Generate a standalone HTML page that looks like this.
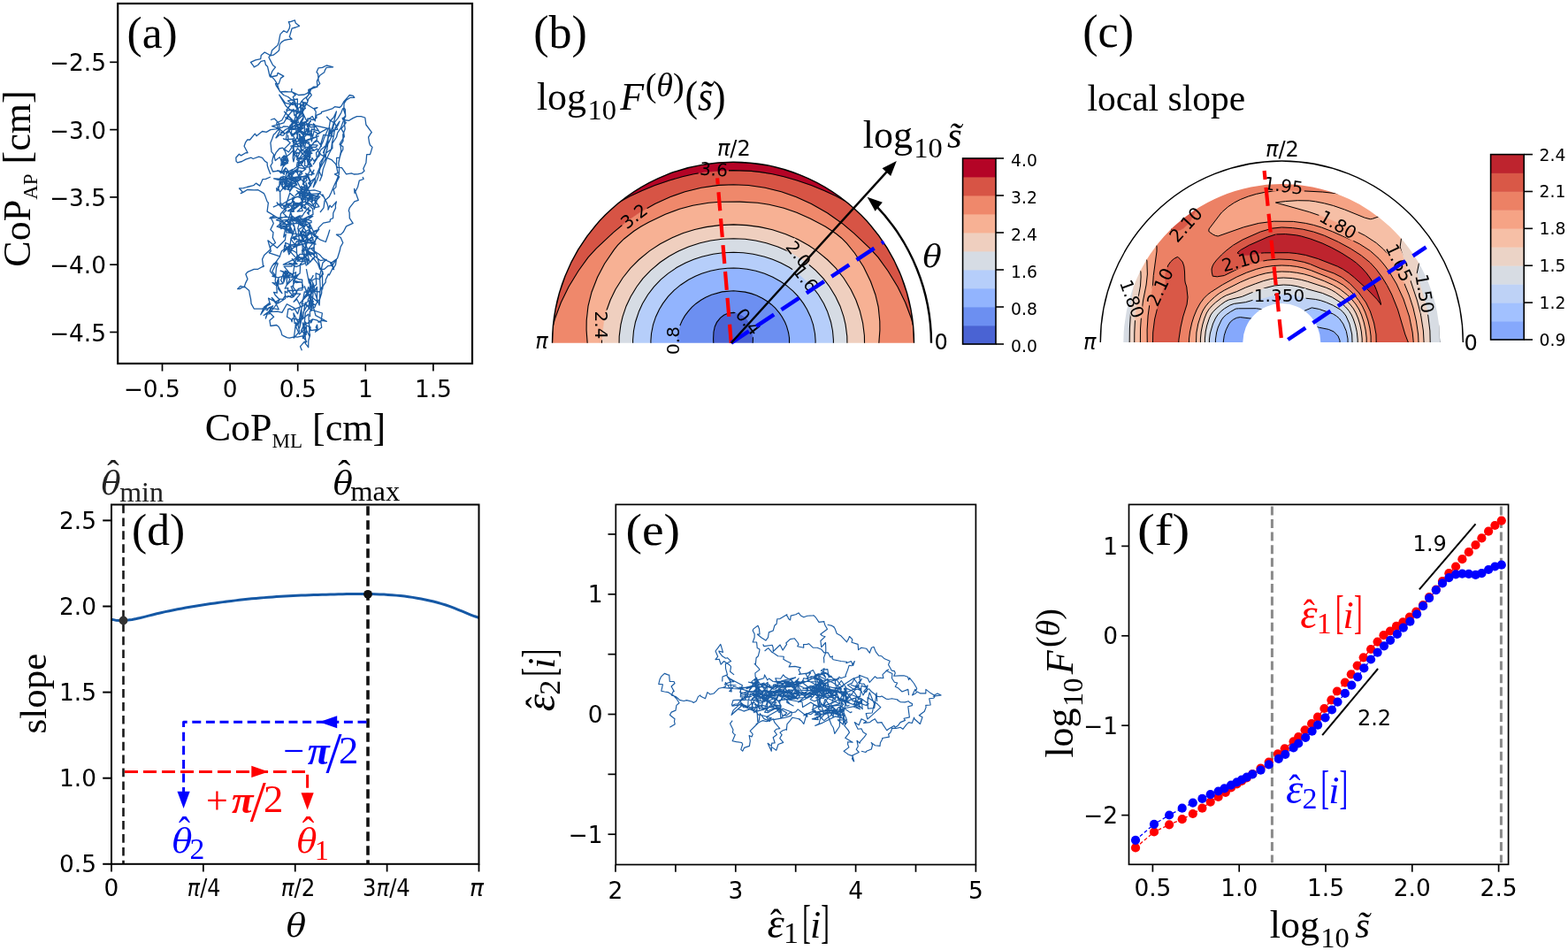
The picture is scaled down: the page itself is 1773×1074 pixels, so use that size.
<!DOCTYPE html>
<html><head><meta charset="utf-8"><title>Figure</title><style>html,body{margin:0;padding:0;background:#fff;}svg{display:block;}</style></head><body>
<svg width="1773" height="1074" viewBox="0 0 1773 1074">
<rect width="1773" height="1074" fill="#fff"/>
<defs><clipPath id="clipB"><path d="M624.50 387.70 A204.5 204.5 0 0 1 1033.50 387.70 Z"/></clipPath>
<mask id="maskB" maskUnits="userSpaceOnUse" x="0" y="0" width="1773" height="1074"><rect width="1773" height="1074" fill="#fff"/><rect x="790.0" y="183.6" width="34" height="16" fill="#000" transform="rotate(4 807 191.6)"/><rect x="700.0" y="236.4" width="34" height="16" fill="#000" transform="rotate(-38 717 244.4)"/><rect x="663.0" y="359.5" width="34" height="16" fill="#000" transform="rotate(90 680 367.5)"/><rect x="744.0" y="377.0" width="34" height="16" fill="#000" transform="rotate(-90 761 385)"/><rect x="829.0" y="355.7" width="34" height="16" fill="#000" transform="rotate(52 846 363.7)"/><rect x="885.9" y="279.4" width="34" height="16" fill="#000" transform="rotate(52 902.9 287.4)"/><rect x="893.7" y="306.8" width="34" height="16" fill="#000" transform="rotate(52 910.7 314.8)"/></mask>
<clipPath id="clipC"><path d="M1270.30 387.00 A179.0 179.0 0 0 1 1628.30 387.00 L1493.30 387.00 A44.0 44.0 0 0 0 1405.30 387.00 Z"/></clipPath>
<mask id="maskC" maskUnits="userSpaceOnUse" x="0" y="0" width="1773" height="1074"><rect width="1773" height="1074" fill="#fff"/><rect x="1427.4" y="202.0" width="48" height="16" fill="#000" transform="rotate(8 1451.4 210)"/><rect x="1317.0" y="246.0" width="48" height="16" fill="#000" transform="rotate(-48 1341 254)"/><rect x="1489.0" y="246.0" width="48" height="16" fill="#000" transform="rotate(30 1513 254)"/><rect x="1379.5" y="287.0" width="48" height="16" fill="#000" transform="rotate(-15 1403.5 295)"/><rect x="1416.5" y="326.0" width="60" height="16" fill="#000" transform="rotate(0 1446.5 334)"/><rect x="1287.7" y="316.5" width="48" height="16" fill="#000" transform="rotate(-65 1311.7 324.5)"/><rect x="1256.0" y="330.0" width="48" height="16" fill="#000" transform="rotate(70 1280 338)"/><rect x="1558.0" y="289.0" width="48" height="16" fill="#000" transform="rotate(65 1582 297)"/><rect x="1587.0" y="324.0" width="48" height="16" fill="#000" transform="rotate(80 1611 332)"/></mask></defs>
<path d="M337.5 125.2 335.9 121.3 332.5 114.1 330.1 113.1 325.7 109.5 320.8 107.5 316.3 103.2 314.7 99.0 313.3 94.5 310.4 90.1 305.9 85.2 308.1 80.1 311.5 75.9 308.6 73.7 305.0 66.9 304.0 64.7 306.5 61.1 307.5 57.0 312.4 52.6 313.9 51.1 315.2 47.9 316.2 42.1 317.0 38.6 320.8 34.8 324.5 36.8 327.1 32.3 327.9 28.7 326.4 24.7 328.3 24.6 333.4 22.8 334.2 26.1 338.5 29.3 334.3 31.0 330.1 32.1 328.0 39.4 327.3 41.6 330.1 44.2 325.7 44.6 321.5 45.5 318.0 47.9 316.2 50.5 315.6 56.7 313.3 59.1 309.2 62.2 305.9 62.8 302.8 61.0 299.3 59.1 295.3 62.4 294.7 66.6 288.9 67.8 283.5 70.3 287.4 75.6 287.2 75.9 291.7 73.5 295.1 69.3 299.3 68.4 300.4 73.2 302.5 75.2 305.0 86.0 305.9 87.0 313.2 85.5 314.1 82.4 320.8 86.1 317.4 88.4 315.2 94.9 311.5 94.5 312.3 96.9 317.0 103.8 322.8 103.5 326.3 103.9 330.1 103.8 334.4 105.9 337.5 107.5 344.1 107.0 346.8 105.7 348.8 104.4 354.3 98.2 358.2 97.9 361.7 94.5 360.1 91.3 359.6 83.5 358.0 81.5 360.0 76.9 364.5 76.4 369.2 74.0 374.1 75.2 376.6 75.9 369.2 76.3 367.3 79.6 366.7 81.8 361.7 85.2 359.6 89.0 358.4 91.7 358.9 98.2 353.7 100.0 352.1 99.6 349.7 106.5 346.8 109.4 342.7 112.6 339.4 116.8 340.0 124.2 339.6 127.0 337.5 131.7 M339.4 139.2 347.6 137.2 347.9 133.9 354.3 135.5 358.0 133.2 357.8 130.4 363.3 128.1 363.5 126.7 371.0 124.3 376.2 122.6 378.5 120.7 384.1 121.5 386.1 119.7 388.7 115.0 393.2 109.9 395.3 107.5 399.4 108.4 400.8 110.3 396.4 110.3 391.5 113.1 389.1 117.0 388.7 124.3 390.7 130.4 387.8 135.5 394.7 136.3 399.0 133.6 403.5 131.7 408.3 131.7 412.8 133.0 413.9 141.0 420.3 149.7 419.5 150.4 416.6 155.2 417.6 161.5 418.5 164.0 421.0 166.4 418.5 174.6 414.7 174.7 413.9 183.9 410.8 190.7 412.0 193.2 408.9 195.9 404.6 196.9 400.1 197.0 397.5 195.8 391.5 196.9 386.5 189.7 381.7 189.4 380.4 187.6 379.7 185.6 375.0 180.7 369.2 178.3 362.5 174.6 361.7 172.7 M339.4 146.6 335.7 145.5 329.6 144.9 325.3 143.2 320.8 142.9 318.8 144.2 312.0 145.8 305.9 146.6 301.2 149.4 296.6 148.5 290.0 153.7 288.3 151.2 282.6 158.0 279.8 157.8 277.7 160.8 276.1 165.3 280.1 172.8 277.9 172.7 272.6 175.9 270.4 174.3 266.8 178.3 267.1 182.4 268.6 183.9 273.6 182.5 277.9 180.1 284.0 178.2 286.2 179.5 292.7 177.2 296.6 178.3 299.6 182.3 302.1 183.9 302.3 187.2 303.5 191.0 305.9 196.9 M388.7 121.5 390.3 123.7 390.7 132.1 387.1 133.6 389.2 136.8 391.3 138.7 385.9 145.6 388.7 150.4 389.3 154.3 384.6 162.0 384.1 163.4 387.8 165.8 387.8 169.0 385.5 173.3 384.1 178.3 380.7 178.3 380.4 187.6 382.0 195.6 378.5 196.9 383.6 199.9 380.4 206.2 379.8 211.6 377.1 214.4 378.5 220.0 M305.9 135.5 310.4 134.2 315.2 139.2 316.4 144.5 311.5 150.4 309.4 152.3 307.9 156.5 305.9 161.5 306.2 163.8 307.0 171.6 309.6 174.6 307.7 182.2 308.1 184.0 305.9 187.6 308.5 194.0 315.2 193.2 317.8 195.9 319.6 189.1 324.5 183.9 326.0 182.0 322.2 170.7 320.8 169.0 324.4 165.4 328.2 161.5 323.4 157.3 324.5 150.4 326.7 147.3 327.7 146.8 333.8 141.0 M354.3 139.2 355.0 141.0 358.6 145.1 361.7 150.4 357.4 152.8 358.5 157.7 354.3 161.5 359.2 159.3 363.6 165.3 362.4 163.6 365.9 152.3 376.2 154.1 372.9 150.4 376.3 146.9 381.7 146.3 378.5 139.2 372.9 135.9 369.2 131.7 M410.1 200.0 411.1 202.5 406.3 204.1 404.6 211.2 401.0 218.3 400.6 213.4 405.2 226.3 400.8 227.9 395.3 234.8 394.3 238.3 395.1 240.3 395.3 246.6 399.1 252.4 391.5 255.9 388.4 262.0 385.4 265.1 380.4 265.2 385.2 268.5 387.8 274.5 385.1 279.1 384.1 283.8 381.6 291.8 380.4 293.1 373.7 297.9 376.6 302.4 372.3 311.0 371.3 309.9 368.3 316.2 368.2 319.1 365.5 322.9 363.7 328.7 363.7 331.4 361.7 337.8 357.3 343.7 356.1 347.1 352.1 349.1 350.4 352.5 350.6 358.3 M305.9 200.0 300.5 202.4 297.1 202.6 293.8 210.1 289.5 207.1 287.2 209.3 285.6 209.9 279.3 211.5 275.2 212.7 270.5 213.0 274.5 217.2 272.3 218.6 275.4 217.1 279.6 214.5 287.2 214.9 291.9 214.7 298.4 218.6 300.0 222.1 302.1 227.9 303.4 229.2 302.1 239.1 305.2 240.9 311.5 244.7 306.0 245.3 309.3 252.5 305.9 259.6 309.0 262.8 308.3 268.6 311.5 274.5 305.8 279.0 305.9 280.1 305.5 282.3 298.7 288.5 298.3 289.4 296.6 293.1 297.7 301.7 298.4 300.6 291.7 304.3 287.2 304.3 280.2 307.3 277.9 309.9 280.0 315.4 277.6 320.1 276.1 324.8 272.1 323.3 268.6 326.6 270.9 326.6 276.2 323.8 281.7 328.5 282.3 332.5 283.5 337.8 284.1 343.4 287.2 349.0 296.0 349.1 298.4 348.7 302.1 350.8 304.0 347.8 305.9 347.1 305.1 353.8 309.6 358.3 304.9 362.2 305.9 368.5 312.7 367.5 315.2 369.5 317.7 374.4 318.9 378.8 319.8 379.3 324.5 381.6 327.2 382.2 333.8 380.6 336.0 381.1 343.1 379.7 342.5 381.0 346.8 386.2 345.0 387.8 348.7 392.7 348.8 385.8 348.9 384.8 350.6 378.8 349.4 374.3 351.5 373.2 350.3 369.9 348.7 363.9 M328.2 255.9 331.1 262.3 330.4 266.3 328.8 270.1 331.9 274.5 335.8 278.4 335.3 280.0 335.7 287.5 338.7 290.8 343.1 295.0 339.4 298.8 339.4 304.3 339.1 309.1 335.7 311.7 331.7 317.9 331.9 319.2 331.6 324.9 335.7 330.4 332.1 334.5 330.1 334.1 324.6 336.0 322.6 334.1 319.7 338.3 315.2 337.8 311.1 333.5 309.6 330.4 313.3 331.2 312.6 322.1 315.2 319.2 315.0 314.5 309.6 311.7 305.4 306.6 305.9 304.3 307.8 300.5 311.5 296.8 314.4 292.9 317.0 289.4 M346.8 293.1 351.3 295.9 353.9 291.4 359.3 297.8 361.7 304.3 366.5 304.4 371.0 300.6 375.8 300.1 380.4 293.1 379.5 299.1 376.6 304.3 377.5 304.5 375.3 297.3 370.7 295.2 364.6 291.6 362.3 288.8 360.5 287.3 355.5 284.0 354.3 280.1 352.4 281.8 358.0 287.5 358.6 290.6 361.0 298.3 361.7 302.4 365.0 307.8 363.6 311.7 361.3 315.6 357.0 314.7 352.4 317.3 354.4 321.2 356.4 328.4 354.3 330.4 350.3 333.1 350.6 339.7 347.5 341.1 344.5 345.2 339.4 347.1 329.9 350.7 328.2 349.0 325.9 349.3 324.5 358.3 329.1 360.9 330.1 363.9 330.7 359.8 339.4 362.0 342.8 358.9 343.1 352.7 346.9 346.1 345.0 341.5 M361.7 218.6 365.3 222.1 364.8 219.9 369.9 230.1 371.1 234.1 371.0 237.2 373.0 232.2 374.9 234.4 380.4 227.9 379.3 232.4 379.5 235.1 376.8 240.7 376.6 246.6 373.5 248.0 373.1 250.6 365.5 252.1 359.9 257.9 360.7 259.4 354.3 261.5 355.9 266.8 361.7 270.8 368.3 273.5 371.1 265.5 372.9 259.6 M387.8 122.3 385.7 127.6 382.1 133.6 378.6 137.8 377.0 142.2 376.1 148.1 375.0 154.3 372.1 160.4 369.0 165.7 365.5 172.6 367.3 168.0 370.2 161.4 371.2 153.4 373.2 149.2 375.8 144.0 377.6 137.7 379.3 130.8 380.4 126.0 377.3 132.8 373.4 136.5 372.2 144.0 369.9 148.2 366.6 155.9 365.3 159.9 361.5 167.6 357.5 172.9 358.4 179.3 354.3 185.7 358.2 179.6 360.4 174.4 362.9 169.3 368.0 165.1 370.6 157.5 372.7 151.8 377.7 147.4 382.1 141.8 384.0 137.2 379.0 144.7 377.9 150.2 377.2 154.3 375.5 161.2 374.6 168.9 372.1 173.8 369.3 179.7 367.5 185.3 365.2 191.6 364.1 198.5 361.7 204.3 363.6 199.5 360.7 193.0 362.8 185.9 365.9 178.8 368.4 173.7 369.9 168.5 370.9 161.8 371.0 154.9 373.0 151.6 372.9 144.7 371.6 151.3 370.1 159.7 368.5 164.2 367.0 169.8 365.9 177.9 361.7 184.0 361.5 189.3 360.0 192.8 356.4 201.8 356.3 204.8 354.3 211.7 357.2 206.4 359.9 199.4 360.3 196.3 362.3 189.6 365.9 183.4 368.0 179.8 368.6 173.1 375.9 167.7 375.8 162.2 380.5 155.0 381.7 150.1 385.4 144.6 387.7 138.2 389.7 133.5 389.4 139.8 390.2 145.8 387.8 152.2 388.0 159.3 385.0 164.2 385.7 170.2 384.3 177.0 382.8 184.6 383.5 190.0 383.3 197.1 380.4 204.3 377.5 210.5 374.7 217.2 372.1 222.6 367.0 227.1 366.0 234.8 362.0 240.0 M330.0 100.0 329.5 103.3 334.2 107.4 331.3 109.5 333.8 115.9 334.9 120.8 337.4 123.6 336.0 128.0 334.5 130.1 333.1 135.5 329.2 140.7 328.1 141.8 326.5 145.0 326.0 150.0 328.4 144.7 328.1 143.3 332.3 138.4 337.4 138.7 336.2 132.9 341.1 127.9 343.8 123.8 345.0 120.0 347.1 117.0 348.9 111.6 352.3 107.6 349.4 102.6 352.0 100.0 348.8 101.3 349.0 107.2 346.4 110.7 348.1 114.5 344.2 120.4 345.4 122.5 340.5 125.7 342.8 131.4 343.0 134.3 340.0 140.0 M325.9 145.6 327.7 146.5 336.4 146.2 326.4 146.2 330.1 154.0 343.1 144.8 338.0 143.8 343.6 142.7 338.2 141.4 328.9 137.5 331.5 137.3 321.5 126.2 330.8 135.8 329.8 134.8 335.3 141.0 344.0 152.5 344.7 138.5 348.5 136.7 334.8 141.9 346.4 138.7 349.1 145.6 350.0 149.6 346.6 147.9 344.9 150.7 344.6 144.2 338.6 145.9 338.8 143.6 341.0 140.8 352.1 141.0 370.6 145.1 359.6 151.1 355.0 148.3 352.4 159.8 351.1 153.1 338.4 147.6 336.1 143.9 335.7 140.3 334.8 124.3 345.6 115.9 342.8 115.9 342.7 121.8 342.2 130.4 330.9 140.5 329.4 149.8 332.3 154.9 337.4 166.0 328.8 165.1 334.6 163.6 348.6 157.5 360.2 153.8 344.4 160.1 330.4 159.3 339.5 166.2 343.7 163.1 342.9 152.9 337.2 147.0 330.3 152.6 326.4 147.1 319.9 153.2 317.7 152.9 317.9 149.4 321.6 150.6 314.8 144.8 307.6 142.7 320.9 138.8 326.2 129.9 325.2 134.3 323.2 134.0 332.0 123.5 332.9 130.6 340.0 125.9 329.9 125.6 323.6 120.3 315.7 107.2 322.6 116.3 331.6 118.6 325.4 114.0 327.6 113.3 336.4 112.0 336.3 123.5 331.2 115.3 323.8 124.6 329.1 117.2 332.7 116.6 342.2 118.3 340.2 118.4 343.2 132.4 337.4 141.6 330.7 143.1 322.8 146.4 312.0 155.9 316.2 148.6 312.6 139.0 318.7 136.0 325.0 124.8 329.8 124.1 342.1 127.0 346.6 136.5 353.1 131.4 356.4 136.8 357.2 126.1 355.3 123.7 358.9 121.6 354.8 122.7 354.1 122.5 340.9 114.3 343.7 118.0 340.1 129.8 332.6 138.1 322.8 132.8 325.5 134.7 M332.2 163.8 331.2 159.7 331.6 156.6 332.2 168.9 333.6 172.5 331.0 167.6 333.6 162.7 330.5 164.8 329.1 167.8 326.4 172.0 319.5 167.2 315.9 168.0 312.0 172.7 310.1 177.0 311.3 181.5 316.2 177.8 317.7 180.9 319.1 186.5 324.1 184.1 318.7 183.0 324.0 180.6 323.1 178.1 325.5 184.3 319.7 187.0 318.7 178.7 322.7 176.6 321.4 175.8 319.0 178.3 317.7 187.3 320.5 184.3 320.7 178.3 323.3 180.9 317.8 180.8 321.0 184.6 320.5 180.8 321.2 183.8 323.4 184.3 323.3 179.4 319.1 180.9 318.5 181.5 327.7 174.0 332.2 169.3 331.3 166.1 331.7 168.9 333.1 177.9 331.9 182.9 331.1 178.6 331.7 171.5 336.2 179.0 335.3 172.4 337.7 173.5 340.2 170.0 341.3 173.9 348.3 170.6 350.8 169.0 350.9 178.0 345.8 171.2 345.2 170.2 351.4 166.2 357.2 166.5 359.1 164.2 352.8 163.6 354.9 161.4 350.8 166.6 340.3 165.8 341.3 160.9 339.4 165.1 338.9 158.0 338.6 151.3 341.0 156.8 342.6 162.0 342.5 154.1 339.6 155.1 343.0 156.0 347.3 151.8 349.7 140.0 350.6 136.7 351.6 136.8 348.4 140.0 351.1 143.9 356.8 143.0 355.7 140.7 355.2 146.6 358.9 147.7 352.3 146.0 351.7 148.2 353.7 155.6 350.8 150.8 344.4 151.9 349.4 152.8 352.8 148.1 350.0 147.8 346.3 146.5 346.6 147.3 348.1 149.7 348.6 145.5 346.3 145.3 349.5 145.2 347.2 142.9 349.4 142.4 345.4 137.8 341.1 143.8 336.9 149.4 342.5 149.0 344.9 158.6 340.5 158.6 349.2 160.6 350.3 167.3 347.7 167.3 347.0 180.6 348.5 173.4 351.5 172.9 351.1 173.0 348.1 177.6 342.9 179.3 344.7 182.3 344.6 187.4 347.3 187.9 350.2 183.4 352.8 187.9 348.0 186.4 349.6 177.1 346.7 177.8 348.5 186.0 350.3 178.2 344.4 170.8 343.0 170.7 339.9 167.0 340.6 171.3 344.4 167.6 346.1 158.9 343.5 160.6 342.0 156.8 339.7 156.0 340.3 160.8 337.1 158.1 338.6 157.3 336.4 156.7 337.0 150.1 337.8 143.3 332.8 142.5 333.6 141.0 333.9 143.3 336.7 155.5 336.0 154.6 333.9 160.0 330.8 157.2 322.3 157.7 320.4 156.8 326.0 158.6 325.6 152.6 M337.3 187.4 331.7 191.5 329.7 192.2 326.2 201.5 322.9 201.6 322.4 210.3 324.6 204.9 323.7 200.5 320.7 199.5 315.8 202.1 309.6 201.8 314.5 203.3 323.5 203.6 328.8 200.5 337.1 189.5 338.3 185.9 342.0 181.8 341.4 184.1 337.5 184.6 340.1 183.4 337.6 183.6 345.4 180.4 348.9 172.0 344.2 173.2 347.4 172.8 347.9 167.4 343.5 171.7 343.8 172.1 337.3 180.1 343.4 179.7 345.3 175.2 348.1 176.4 346.1 168.3 342.2 162.7 345.9 161.1 352.2 164.4 348.3 171.3 352.9 173.2 344.2 176.9 347.3 179.9 343.3 174.7 336.5 167.7 333.1 173.3 339.1 172.7 336.7 177.2 338.4 181.6 338.0 179.9 343.4 176.5 346.3 173.5 346.6 172.8 345.9 171.2 351.6 171.7 349.2 171.2 355.4 170.2 350.5 165.5 350.6 164.4 348.1 166.9 355.5 170.0 358.6 168.1 360.7 172.5 361.2 176.0 355.0 182.0 353.0 178.5 352.4 180.2 350.6 182.6 352.3 181.1 348.6 180.1 346.5 178.5 351.3 188.3 344.2 189.7 340.4 185.5 340.8 186.9 335.4 188.3 336.3 183.4 338.7 183.4 335.4 180.1 336.4 179.0 344.6 179.6 341.8 184.6 339.1 184.1 337.4 185.3 336.7 194.7 336.1 195.3 339.5 203.5 337.3 199.4 341.8 196.3 338.9 193.1 340.9 193.3 328.3 195.3 331.4 195.7 327.9 197.5 318.1 204.5 317.2 200.7 320.1 208.5 317.9 208.4 315.9 205.4 320.8 213.2 321.7 210.5 322.3 209.6 321.3 206.4 316.5 202.0 315.8 210.7 313.0 216.0 312.7 212.7 316.0 216.2 314.2 211.2 315.9 210.8 316.2 209.8 316.5 205.2 319.8 212.4 325.8 210.7 328.4 210.2 326.7 207.2 325.8 213.5 329.6 209.3 329.4 209.3 326.6 209.0 322.7 210.1 327.7 207.9 329.9 208.6 332.0 211.7 327.6 210.7 330.2 201.6 334.0 200.9 339.3 201.6 342.7 205.0 343.1 208.4 343.0 200.3 341.4 199.9 346.0 198.5 346.4 201.6 350.3 193.3 349.8 189.5 352.8 195.9 355.0 192.2 352.1 198.2 352.9 194.9 355.1 196.6 349.9 197.7 346.1 198.9 345.4 199.5 335.1 200.2 334.0 207.4 335.2 208.2 330.3 201.9 329.7 205.7 326.8 211.7 331.4 207.8 338.3 203.5 340.3 199.3 340.6 202.5 336.8 205.0 333.1 202.4 336.8 203.0 339.0 196.0 345.9 191.0 337.4 189.4 335.6 195.2 336.0 191.4 330.8 194.1 330.7 191.5 324.1 195.1 323.8 197.1 325.1 193.5 319.0 194.8 323.0 189.7 321.4 195.0 321.4 197.2 317.2 193.5 316.9 193.5 313.1 192.9 M339.2 215.7 346.9 218.5 346.1 206.6 350.5 220.0 361.8 222.4 357.5 227.0 346.6 224.0 349.2 226.1 350.5 217.7 340.5 219.2 345.1 217.2 339.1 219.2 345.4 219.3 340.5 229.6 345.6 227.7 345.0 222.7 351.7 219.0 345.4 218.6 356.1 201.4 348.6 207.0 350.0 208.6 349.9 207.3 351.6 209.9 349.7 203.8 345.7 196.1 347.7 197.1 351.4 205.4 350.3 209.5 348.3 213.5 341.9 214.2 340.1 216.9 340.9 211.1 348.5 212.1 344.1 216.2 340.7 210.5 346.6 214.0 341.6 214.1 347.5 215.5 349.7 215.6 352.9 224.5 355.2 223.2 352.9 225.3 352.0 228.6 354.4 231.4 355.3 236.5 360.4 218.8 351.0 219.3 353.5 223.3 347.3 220.0 341.6 225.9 341.4 215.2 340.7 212.4 345.5 210.0 342.2 208.1 347.3 203.6 344.6 200.5 343.4 207.2 346.0 216.3 348.2 215.7 355.5 214.8 362.7 217.0 356.0 224.3 356.1 228.0 358.2 227.3 352.8 232.9 349.9 230.2 341.6 232.2 344.1 217.2 332.4 210.6 330.2 210.2 327.6 216.6 332.6 209.7 335.1 209.5 333.5 203.9 335.2 201.2 324.3 204.5 324.2 205.0 318.1 199.9 315.4 203.7 319.8 202.3 336.2 200.0 327.9 206.5 323.1 202.6 327.3 195.0 326.2 196.9 329.7 202.8 327.5 208.5 318.5 203.3 317.0 202.2 318.4 208.6 322.2 214.5 325.3 204.3 335.9 209.0 333.8 205.0 335.9 204.9 340.6 214.1 342.9 223.0 351.6 223.8 353.5 223.1 350.0 220.0 341.9 217.8 338.5 220.3 342.4 218.6 338.1 217.7 335.5 215.6 343.1 221.2 343.9 225.6 342.5 219.7 338.2 216.6 334.0 221.0 336.5 218.8 338.0 218.2 341.5 227.8 334.2 232.3 332.6 227.7 329.4 237.7 327.1 245.2 328.8 240.1 331.1 247.7 338.9 243.9 341.4 244.1 341.2 245.1 344.1 240.5 349.0 234.6 349.2 242.5 347.4 240.5 351.2 238.2 343.7 235.2 340.5 229.4 331.8 235.7 332.9 230.4 331.5 227.1 328.9 230.6 333.2 223.1 327.7 218.2 321.6 237.1 322.0 237.0 327.6 231.5 320.5 238.3 317.4 241.7 316.4 254.2 323.0 253.5 318.0 248.5 309.8 243.8 304.9 246.9 308.9 246.4 325.5 245.4 330.7 246.9 328.3 239.9 337.7 232.7 339.2 229.3 342.2 238.4 336.2 239.0 342.6 233.2 335.2 230.3 333.6 232.1 325.5 232.2 317.0 232.2 316.7 216.9 320.4 212.3 327.9 215.1 321.2 206.4 319.9 199.2 333.0 204.9 331.5 206.0 328.8 208.0 320.7 205.4 323.5 197.7 324.0 194.1 330.9 199.4 323.2 190.0 M334.4 234.9 329.9 235.6 325.5 238.6 332.4 239.1 330.5 239.4 329.4 236.9 327.5 237.2 332.4 238.6 328.3 232.2 323.4 230.4 328.9 229.8 320.5 234.0 327.1 234.4 320.4 232.8 322.0 233.7 318.5 231.3 327.8 225.6 336.4 222.5 343.0 224.8 345.4 225.7 353.5 227.8 352.3 223.4 353.6 225.1 350.3 222.0 349.9 223.5 347.5 229.4 350.0 224.6 344.4 232.1 346.0 234.5 342.3 234.2 340.2 230.1 331.6 229.0 330.5 225.9 330.3 223.8 343.0 220.6 356.4 221.5 357.1 221.7 357.3 224.8 355.9 225.0 356.1 226.6 360.9 233.7 355.6 234.9 354.0 232.9 349.0 229.7 344.6 228.0 353.6 236.0 354.0 242.4 343.4 247.3 338.5 247.1 334.0 247.1 339.1 245.1 342.5 249.5 349.2 251.9 352.1 251.7 352.0 249.7 344.7 247.7 341.9 253.2 343.3 256.3 339.3 254.3 339.5 253.4 343.4 248.5 347.0 250.5 345.6 247.5 347.1 247.8 340.2 250.5 333.3 248.6 341.2 248.3 333.8 252.5 324.0 253.4 322.4 258.5 328.0 260.2 327.4 260.5 321.4 255.7 324.3 257.4 316.4 255.4 317.8 258.8 319.0 257.5 323.5 258.9 322.1 259.6 328.1 261.5 328.3 256.6 326.3 259.3 326.9 261.9 329.2 263.3 321.8 258.8 313.1 256.2 318.8 251.5 318.9 249.1 325.5 248.4 337.1 250.7 345.0 250.0 353.8 244.5 346.7 246.0 346.3 249.4 346.5 251.1 339.0 253.6 342.7 256.2 342.5 256.3 340.1 252.8 342.8 256.9 341.4 252.5 328.7 247.1 329.9 249.2 335.4 246.9 337.7 251.9 342.4 255.3 345.9 252.6 348.6 257.9 350.6 252.4 345.4 254.3 351.7 258.3 345.7 261.6 343.8 262.8 342.8 267.0 337.0 266.4 340.5 263.5 340.7 267.4 342.0 270.6 340.1 266.3 331.8 267.8 331.3 269.7 331.2 268.2 335.4 269.1 333.0 271.2 332.2 269.7 351.1 274.7 351.7 272.5 344.3 267.7 345.5 266.0 341.8 265.0 340.2 265.7 334.6 264.4 323.5 262.6 324.3 256.2 320.6 255.6 315.6 256.5 322.7 250.4 328.9 250.3 324.7 255.0 324.1 255.8 322.2 252.0 312.4 248.7 324.0 244.7 320.1 240.9 323.8 237.9 321.5 235.8 319.1 235.6 313.1 228.9 314.3 231.3 318.1 230.0 308.8 234.1 M344.3 274.5 350.7 260.5 345.8 267.7 345.7 261.6 345.7 260.6 341.3 254.8 343.4 252.4 327.3 252.9 325.1 250.1 326.5 246.6 328.2 251.4 323.9 249.4 327.2 253.7 328.5 255.1 329.2 247.8 331.7 252.0 332.5 254.7 335.4 266.3 328.9 270.1 327.2 284.6 330.5 281.1 337.0 276.4 337.5 271.4 346.2 274.4 347.0 273.0 338.6 273.2 337.1 259.8 345.5 254.7 339.5 263.6 341.9 260.3 347.7 266.5 344.0 268.9 342.8 272.4 354.1 268.6 351.9 268.3 346.6 274.0 357.1 276.0 348.2 271.0 354.3 271.7 350.6 261.0 355.7 267.4 357.7 262.8 360.0 260.3 351.7 263.7 359.6 267.8 346.9 283.6 346.3 289.3 338.1 293.7 335.0 285.5 324.5 279.6 327.9 276.9 342.0 275.9 342.3 284.9 341.5 285.0 343.7 289.4 347.7 294.6 338.5 291.1 344.9 291.5 343.5 283.3 354.7 279.8 357.5 268.6 350.8 254.1 348.5 265.6 351.2 263.7 341.1 262.1 343.0 271.5 341.4 265.4 348.0 268.7 346.3 278.0 352.2 290.2 346.9 283.9 355.5 286.5 344.3 289.2 349.9 295.3 346.2 281.7 341.4 283.3 345.2 279.1 347.3 287.1 339.0 287.4 331.1 298.9 334.3 297.3 330.3 292.8 336.1 298.5 320.3 299.2 335.0 291.9 321.8 277.3 321.2 281.8 328.6 278.1 330.1 282.4 326.8 287.7 324.5 279.7 318.5 283.8 316.4 289.9 304.3 285.8 306.4 283.9 302.9 271.8 313.4 280.3 322.4 271.3 323.2 264.6 320.6 268.1 322.7 258.3 330.4 253.0 333.2 257.2 330.9 266.2 326.7 254.6 329.6 243.4 339.5 251.4 336.8 246.4 337.9 254.0 336.7 258.4 340.9 264.0 M346.4 304.1 349.5 320.0 354.1 311.6 350.9 317.8 350.6 326.1 340.8 341.1 350.3 329.4 348.7 324.3 346.8 331.1 344.4 323.8 348.2 333.6 346.2 335.4 339.4 342.5 351.5 346.5 351.4 330.7 350.0 315.1 354.2 328.8 361.4 330.0 363.8 324.7 364.8 326.5 364.4 306.2 365.4 310.0 361.2 313.4 365.0 297.0 369.1 293.4 362.3 294.6 357.6 290.9 351.7 285.7 345.0 281.2 339.2 271.1 344.6 271.9 346.6 285.6 349.8 286.0 343.9 292.3 346.3 300.3 345.6 297.4 334.8 301.6 327.1 297.6 330.1 297.9 329.9 301.1 321.1 301.1 328.1 309.5 320.8 316.1 323.6 307.9 317.1 306.2 324.9 309.3 320.5 309.5 326.4 308.2 324.4 311.1 314.2 313.8 307.9 312.4 310.8 310.6 307.8 307.0 313.0 296.1 309.2 298.3 314.3 297.8 312.4 302.9 311.2 318.0 318.9 331.6 314.7 326.8 314.1 316.2 312.3 322.8 308.0 319.6 316.7 321.2 320.1 320.5 317.5 316.9 319.7 311.8 320.6 307.8 320.8 319.2 324.6 308.6 324.2 322.2 334.1 312.5 336.6 312.0 323.8 313.8 334.6 307.8 333.3 314.7 331.3 310.7 333.0 299.3 335.8 289.1 336.3 295.5 345.0 289.6 346.0 291.6 336.6 291.0 338.0 295.2 348.3 296.1 347.8 295.5 347.5 299.2 355.4 291.2 355.1 273.2 346.1 275.0 335.1 278.0 341.9 271.9 338.2 272.5 335.6 272.6 332.1 279.6 333.9 279.4 322.6 274.4 323.4 280.1 320.6 284.9 325.5 280.5 329.7 279.4 M324.9 334.4 329.8 336.3 332.3 335.3 337.4 326.4 343.1 325.1 341.4 319.3 331.6 317.2 335.3 319.6 339.6 318.9 340.1 318.6 333.5 318.7 330.6 323.8 329.1 323.9 331.8 329.6 330.8 328.9 331.4 334.9 326.0 328.5 341.9 327.8 341.7 316.1 338.5 316.0 334.5 314.1 333.0 316.6 337.7 310.1 330.0 314.0 330.6 309.8 322.5 306.1 322.5 310.6 327.9 315.5 322.1 326.2 325.8 325.7 324.7 331.1 322.2 329.2 322.7 337.5 314.7 342.8 303.5 337.1 305.0 342.3 298.4 347.3 305.8 343.9 304.7 342.2 294.8 355.7 298.6 347.1 302.7 349.1 302.5 349.2 308.6 345.7 303.9 355.2 306.9 352.0 316.5 338.3 310.7 341.8 312.4 343.1 309.8 339.0 307.3 336.5 311.6 342.2 315.2 349.8 306.1 348.2 300.9 357.7 300.4 360.1 302.4 354.5 298.1 356.5 303.2 352.7 313.8 352.2 318.9 353.4 324.4 343.8 332.5 348.1 336.6 354.8 339.5 345.5 335.7 338.3 332.1 341.2 339.7 332.2 332.2 331.9 334.4 333.0 330.3 334.8 M350.6 346.7 352.1 323.2 351.8 345.9 345.4 353.4 343.5 373.0 342.3 364.8 350.2 380.8 348.9 355.1 342.1 360.8 345.1 342.7 351.0 349.8 348.8 348.3 349.8 341.1 352.9 339.3 352.1 351.5 354.0 332.7 353.7 319.7 354.2 326.2 348.1 339.3 356.0 344.6 350.8 342.8 352.1 349.3 354.3 340.3 351.9 350.1 364.4 354.0 363.2 362.1 369.3 363.3 356.9 356.6 353.4 343.2 347.4 331.2 358.4 340.8 358.5 324.4 355.9 329.4 354.6 327.3 361.1 345.1 362.2 324.8 361.4 310.7 357.1 308.9 357.7 321.8 346.7 330.7 344.3 329.8 340.8 349.4 341.5 359.1 338.7 370.9 340.4 359.0 340.4 350.1 337.6 366.4 339.8 359.6 333.8 370.9 334.7 364.7 332.3 382.0 338.6 374.9 337.0 367.5 337.2 364.9 331.9 354.0 333.1 365.5 336.6 365.3 334.0 367.9 338.5 377.8 344.7 371.5 342.3 383.0 M344.9 363.8 346.9 366.0 344.5 365.8 344.5 365.8 352.1 364.6 350.2 362.7 353.2 361.1 351.8 364.8 353.6 360.9 358.8 362.2 360.4 363.6 364.4 362.3 359.8 364.0 362.8 364.0 363.7 370.2 356.5 375.2 359.1 372.5 357.2 370.0 358.6 367.2 359.2 372.5 351.4 373.6 350.4 371.0 351.3 370.1 345.2 367.3 345.2 364.1 340.5 373.9 346.2 378.4 346.4 369.1 345.3 370.9 343.7 368.0 345.1 376.2 346.2 375.9 343.7 381.2 345.3 380.1 344.5 377.0 345.8 384.8 346.5 386.0 344.3 386.3 340.0 391.1 339.5 391.8 341.4 396.2" fill="none" stroke="#1a5ca4" stroke-width="1.3" stroke-linejoin="round"/>
<rect x="133.2" y="4" width="400.8" height="407" fill="none" stroke="#000" stroke-width="2.2"/>
<line x1="183.5" y1="411" x2="183.5" y2="419.6" stroke="#000" stroke-width="1.7"/>
<line x1="260.1" y1="411" x2="260.1" y2="419.6" stroke="#000" stroke-width="1.7"/>
<text x="260.1" y="449.3" font-size="26.4" font-family="'DejaVu Sans', sans-serif" text-anchor="middle">0</text>
<line x1="336.7" y1="411" x2="336.7" y2="419.6" stroke="#000" stroke-width="1.7"/>
<text x="336.7" y="449.3" font-size="26.4" font-family="'DejaVu Sans', sans-serif" text-anchor="middle">0.5</text>
<line x1="413.3" y1="411" x2="413.3" y2="419.6" stroke="#000" stroke-width="1.7"/>
<text x="413.3" y="449.3" font-size="26.4" font-family="'DejaVu Sans', sans-serif" text-anchor="middle">1</text>
<line x1="489.9" y1="411" x2="489.9" y2="419.6" stroke="#000" stroke-width="1.7"/>
<text x="489.9" y="449.3" font-size="26.4" font-family="'DejaVu Sans', sans-serif" text-anchor="middle">1.5</text>
<text x="171.7" y="449.3" font-size="26.4" font-family="'DejaVu Sans', sans-serif" text-anchor="middle">−0.5</text>
<line x1="124.2" y1="70.3" x2="133.2" y2="70.3" stroke="#000" stroke-width="1.7"/>
<text x="120" y="80.3" font-size="26.4" font-family="'DejaVu Sans', sans-serif" text-anchor="end">−2.5</text>
<line x1="124.2" y1="146.6" x2="133.2" y2="146.6" stroke="#000" stroke-width="1.7"/>
<text x="120" y="156.6" font-size="26.4" font-family="'DejaVu Sans', sans-serif" text-anchor="end">−3.0</text>
<line x1="124.2" y1="222.9" x2="133.2" y2="222.9" stroke="#000" stroke-width="1.7"/>
<text x="120" y="232.9" font-size="26.4" font-family="'DejaVu Sans', sans-serif" text-anchor="end">−3.5</text>
<line x1="124.2" y1="299.2" x2="133.2" y2="299.2" stroke="#000" stroke-width="1.7"/>
<text x="120" y="309.2" font-size="26.4" font-family="'DejaVu Sans', sans-serif" text-anchor="end">−4.0</text>
<line x1="124.2" y1="375.5" x2="133.2" y2="375.5" stroke="#000" stroke-width="1.7"/>
<text x="120" y="385.5" font-size="26.4" font-family="'DejaVu Sans', sans-serif" text-anchor="end">−4.5</text>
<text x="143.5" y="54.3" font-size="51.5" font-family="'Liberation Serif', 'Times New Roman', serif">(a)</text>
<text x="231.7" y="498.2" font-size="44" font-family="'Liberation Serif', 'Times New Roman', serif">CoP<tspan font-size="23" dy="8">ML</tspan><tspan dy="-8"> [cm]</tspan></text>
<text x="0" y="0" font-size="44" font-family="'Liberation Serif', 'Times New Roman', serif" transform="translate(34 301.7) rotate(-90)">CoP<tspan font-size="23" dy="7.5">AP</tspan><tspan dy="-7.5"> [cm]</tspan></text>
<g clip-path="url(#clipB)">
<path d="M823.5 354.1 L830.5 353.5 L834.5 354.1 L837.5 355.2 L842.5 358.4 L846.5 362.9 L849.3 368.2 L850.9 374.2 L851.4 382.2 L851.0 392.2 L807.0 392.2 L806.6 388.2 L806.8 376.2 L807.7 371.2 L809.5 366.3 L811.5 362.9 L814.6 359.2 L818.5 356.2 L823.2 354.2Z" fill="#4a63d3" stroke="#4a63d3" stroke-width="0.6" fill-rule="evenodd"/>
<path d="M821.5 329.2 L828.5 328.8 L835.5 329.1 L842.5 330.1 L849.5 331.9 L855.9 334.2 L862.1 337.2 L868.4 341.2 L873.4 345.2 L877.5 349.2 L881.6 354.2 L885.5 360.2 L888.5 366.3 L890.6 372.2 L892.4 381.2 L892.6 392.2 L851.0 392.2 L851.4 383.2 L851.0 375.2 L849.7 369.2 L847.5 364.4 L843.5 359.3 L839.5 356.2 L834.8 354.2 L829.5 353.4 L823.5 354.1 L818.5 356.2 L814.5 359.3 L810.5 364.4 L808.3 369.2 L807.0 375.2 L806.6 383.2 L807.0 392.2 L765.4 392.2 L765.5 382.0 L766.5 375.9 L768.5 368.9 L770.5 364.1 L773.5 358.5 L780.5 349.2 L789.5 341.3 L799.5 335.4 L810.5 331.3 L821.5 329.2Z" fill="#6c8ff1" stroke="#6c8ff1" stroke-width="0.6" fill-rule="evenodd"/>
<path d="M822.5 303.2 L835.5 303.2 L844.5 304.2 L854.5 306.2 L861.5 308.2 L869.5 311.2 L879.5 316.2 L888.5 322.2 L893.5 326.2 L901.5 334.1 L906.5 340.2 L911.5 348.0 L916.5 358.2 L919.5 367.2 L921.5 377.2 L922.1 385.2 L922.0 392.2 L892.6 392.2 L892.5 382.0 L891.5 375.9 L889.5 368.9 L887.5 364.1 L884.3 358.2 L881.5 354.1 L876.5 348.2 L872.2 344.2 L866.9 340.2 L862.1 337.2 L855.5 334.0 L849.5 331.9 L842.5 330.1 L829.5 328.8 L816.5 329.9 L804.5 333.2 L797.8 336.2 L792.6 339.2 L787.0 343.2 L782.5 347.2 L778.5 351.6 L774.5 356.9 L771.4 362.2 L768.5 368.9 L766.5 375.9 L765.5 382.0 L765.4 392.2 L736.0 392.2 L735.9 385.2 L736.5 377.2 L738.5 367.2 L741.5 358.2 L745.5 349.8 L749.4 343.2 L755.5 335.2 L759.2 331.2 L764.5 326.2 L773.5 319.4 L780.3 315.2 L788.5 311.2 L796.4 308.2 L803.5 306.2 L813.2 304.2 L822.5 303.2Z" fill="#92b4fe" stroke="#92b4fe" stroke-width="0.6" fill-rule="evenodd"/>
<path d="M813.5 286.1 L826.5 285.2 L839.5 285.7 L851.7 287.2 L864.5 290.2 L876.1 294.2 L886.9 299.2 L898.5 306.2 L906.4 312.2 L914.9 320.2 L922.5 329.0 L927.5 336.2 L933.5 347.2 L937.5 357.2 L940.5 368.3 L942.2 381.2 L942.4 392.2 L922.0 392.2 L921.8 381.2 L920.5 371.5 L917.5 360.9 L914.5 353.7 L908.6 343.2 L902.5 335.2 L895.7 328.2 L888.6 322.2 L875.8 314.2 L869.5 311.2 L861.5 308.2 L854.5 306.2 L844.8 304.2 L835.5 303.2 L829.5 303.1 L822.5 303.2 L813.2 304.2 L803.5 306.2 L796.5 308.2 L788.5 311.2 L782.2 314.2 L769.4 322.2 L762.3 328.2 L755.5 335.2 L749.4 343.2 L743.5 353.7 L740.5 360.9 L737.5 371.5 L736.2 381.2 L736.0 392.2 L715.6 392.2 L715.6 384.2 L716.5 374.0 L718.5 364.0 L721.5 354.5 L725.5 345.2 L730.5 336.2 L735.5 329.0 L741.5 321.9 L748.2 315.2 L755.5 309.1 L762.5 304.2 L773.0 298.2 L784.4 293.2 L793.4 290.2 L801.5 288.2 L812.9 286.2Z" fill="#b6cefa" stroke="#b6cefa" stroke-width="0.6" fill-rule="evenodd"/>
<path d="M817.5 270.2 L830.5 269.7 L844.5 270.5 L857.5 272.5 L870.5 275.8 L883.5 280.5 L896.5 286.8 L907.5 293.6 L917.5 301.3 L926.8 310.2 L936.0 321.2 L943.2 332.2 L948.3 342.2 L952.8 354.2 L955.9 366.2 L957.8 380.2 L958.0 392.2 L942.4 392.2 L942.2 381.2 L940.5 368.3 L937.5 357.2 L933.5 347.2 L927.5 336.2 L922.5 329.0 L914.9 320.2 L906.4 312.2 L898.5 306.2 L890.5 301.1 L880.8 296.2 L870.8 292.2 L860.9 289.2 L851.5 287.2 L840.5 285.7 L829.5 285.2 L817.5 285.7 L806.5 287.2 L797.1 289.2 L787.2 292.2 L777.2 296.2 L767.5 301.1 L759.5 306.2 L751.6 312.2 L743.1 320.2 L735.5 329.0 L730.5 336.2 L724.5 347.2 L720.5 357.2 L717.5 368.3 L715.8 381.2 L715.6 392.2 L700.0 392.2 L700.2 380.2 L701.9 367.2 L704.0 358.2 L708.0 346.2 L712.1 337.2 L717.9 327.2 L725.1 317.2 L732.2 309.2 L741.5 300.5 L750.5 293.6 L759.5 287.9 L769.5 282.7 L781.5 277.8 L792.5 274.4 L804.5 271.8 L817.0 270.2Z" fill="#d6dce4" stroke="#d6dce4" stroke-width="0.6" fill-rule="evenodd"/>
<path d="M821.5 254.1 L834.5 254.0 L853.5 255.6 L868.5 258.5 L882.5 262.5 L895.5 267.5 L909.5 274.6 L923.5 283.6 L933.5 291.7 L944.2 302.2 L953.2 313.2 L961.0 325.2 L967.0 337.2 L971.9 350.2 L975.4 364.2 L977.4 379.2 L977.6 392.2 L958.0 392.2 L957.8 380.2 L955.9 366.2 L952.8 354.2 L947.8 341.2 L942.0 330.2 L933.7 318.2 L924.9 308.2 L915.5 299.7 L906.5 292.9 L896.5 286.8 L886.5 281.8 L876.5 277.8 L865.5 274.4 L853.5 271.8 L841.5 270.2 L829.5 269.7 L817.5 270.2 L805.5 271.6 L794.5 273.9 L782.5 277.4 L771.5 281.8 L761.5 286.8 L751.5 292.9 L742.5 299.7 L733.1 308.2 L724.3 318.2 L716.0 330.2 L710.2 341.2 L705.2 354.2 L702.1 366.2 L700.2 380.2 L700.0 392.2 L680.4 392.2 L680.6 379.2 L682.4 365.2 L685.8 351.2 L690.1 339.2 L695.9 327.2 L702.0 317.2 L711.2 305.2 L719.5 296.4 L730.5 286.7 L740.5 279.5 L750.5 273.5 L764.5 266.7 L778.5 261.5 L793.5 257.6 L805.5 255.5 L820.6 254.2Z" fill="#efcfbf" stroke="#efcfbf" stroke-width="0.6" fill-rule="evenodd"/>
<path d="M814.5 228.2 L842.5 228.2 L856.5 229.2 L869.7 231.2 L886.3 235.2 L903.3 241.2 L924.5 251.2 L938.2 259.2 L945.5 264.2 L951.6 269.2 L959.5 277.2 L963.5 282.2 L974.5 298.2 L982.5 313.6 L989.0 330.2 L993.0 346.2 L994.8 362.2 L994.9 373.2 L993.5 392.2 L977.6 392.2 L977.4 379.2 L975.4 364.2 L971.9 350.2 L967.0 337.2 L961.0 325.2 L953.2 313.2 L944.2 302.2 L932.5 290.8 L920.5 281.5 L909.5 274.6 L897.5 268.5 L885.5 263.6 L872.5 259.5 L859.5 256.6 L844.5 254.6 L829.5 253.9 L813.5 254.6 L798.5 256.6 L785.5 259.5 L772.5 263.6 L760.5 268.5 L748.5 274.6 L737.5 281.5 L725.5 290.8 L713.8 302.2 L704.8 313.2 L697.0 325.2 L691.0 337.2 L686.1 350.2 L682.6 364.2 L680.6 379.2 L680.4 392.2 L664.5 392.2 L663.1 373.2 L663.2 363.2 L664.8 347.2 L668.1 333.2 L673.5 318.2 L680.5 303.6 L688.5 290.5 L698.5 277.2 L707.6 268.2 L719.8 259.2 L735.5 250.2 L754.7 241.2 L768.4 236.2 L783.4 232.2 L801.4 229.2 L814.3 228.2Z" fill="#f7b194" stroke="#f7b194" stroke-width="0.6" fill-rule="evenodd"/>
<path d="M815.5 209.2 L834.5 208.8 L852.8 210.2 L870.5 213.3 L889.5 218.7 L907.5 225.6 L925.5 234.7 L941.5 244.7 L957.5 256.7 L966.5 264.6 L981.5 278.8 L992.3 290.2 L1002.0 303.2 L1012.2 319.2 L1022.0 338.2 L1029.2 356.2 L1032.5 366.8 L1035.5 379.2 L1036.9 387.2 L1036.9 392.2 L993.5 392.2 L995.0 371.2 L994.3 355.2 L992.0 341.2 L988.0 327.2 L980.5 309.4 L972.5 295.0 L966.5 286.2 L959.5 277.2 L950.4 268.2 L938.2 259.2 L924.5 251.2 L907.9 243.2 L895.5 238.2 L878.8 233.2 L864.0 230.2 L847.5 228.5 L836.5 228.1 L814.5 228.2 L801.5 229.2 L788.3 231.2 L771.7 235.2 L754.7 241.2 L741.5 247.2 L724.5 256.2 L712.5 264.2 L706.4 269.2 L698.5 277.2 L688.5 290.5 L683.5 298.3 L678.5 307.4 L671.1 324.2 L667.0 337.2 L665.0 346.2 L663.8 354.2 L663.0 371.2 L664.5 392.2 L621.1 392.2 L621.1 387.2 L622.5 379.3 L627.5 360.2 L634.2 342.2 L643.0 324.2 L654.0 306.2 L664.9 291.2 L673.0 282.2 L689.5 266.4 L704.5 253.5 L716.5 244.7 L732.5 234.7 L748.5 226.5 L765.5 219.7 L781.5 214.8 L798.3 211.2 L815.2 209.2Z" fill="#ef886b" stroke="#ef886b" stroke-width="0.6" fill-rule="evenodd"/>
<path d="M813.5 193.2 L824.5 192.6 L838.5 192.8 L852.5 193.7 L866.5 195.5 L878.5 197.8 L890.5 200.7 L914.5 208.6 L927.5 213.6 L939.5 218.9 L949.5 223.9 L961.5 230.6 L976.5 239.8 L987.5 247.1 L998.3 255.2 L1006.7 262.2 L1015.1 270.2 L1022.5 278.1 L1031.5 289.2 L1037.5 297.5 L1037.5 392.2 L1036.9 392.2 L1036.9 387.2 L1034.5 374.7 L1029.9 358.2 L1022.9 340.2 L1013.9 322.2 L1004.0 306.2 L993.1 291.2 L984.0 281.2 L964.5 262.8 L948.5 249.6 L935.5 240.7 L917.5 230.4 L900.5 222.7 L883.5 216.8 L865.2 212.2 L846.5 209.5 L829.5 208.7 L812.5 209.4 L792.8 212.2 L774.5 216.8 L757.5 222.7 L740.5 230.4 L722.5 240.7 L709.5 249.6 L693.5 262.8 L674.0 281.2 L664.9 291.2 L654.0 306.2 L644.1 322.2 L635.1 340.2 L628.1 358.2 L623.5 374.7 L621.1 387.2 L621.1 392.2 L620.5 392.2 L620.5 297.5 L630.5 284.1 L641.5 271.6 L649.1 264.2 L657.2 257.2 L674.8 244.2 L701.5 227.7 L721.5 217.5 L743.5 208.6 L757.5 203.8 L771.5 199.7 L790.5 195.7 L805.5 193.7 L813.1 193.2Z" fill="#d75445" stroke="#d75445" stroke-width="0.6" fill-rule="evenodd"/>
<path d="M744.5 180.1 L747.3 179.2 L910.7 179.2 L933.5 187.5 L948.5 193.9 L962.5 200.9 L974.5 207.7 L991.5 218.4 L1004.5 227.3 L1016.5 236.4 L1027.5 245.9 L1037.5 255.7 L1037.5 297.5 L1028.5 285.3 L1019.5 274.8 L1011.0 266.2 L1000.8 257.2 L990.4 249.2 L976.5 239.8 L956.5 227.7 L945.5 221.8 L932.5 215.7 L917.5 209.6 L900.5 203.8 L886.5 199.7 L873.5 196.7 L860.5 194.6 L849.5 193.4 L829.5 192.6 L816.5 192.9 L797.5 194.6 L784.5 196.7 L771.5 199.7 L757.5 203.8 L740.5 209.6 L725.5 215.7 L712.5 221.8 L701.5 227.7 L681.5 239.8 L667.6 249.2 L657.2 257.2 L647.0 266.2 L638.5 274.8 L629.5 285.3 L620.5 297.5 L620.5 255.7 L628.1 248.2 L640.5 237.3 L653.5 227.3 L668.5 217.1 L687.5 205.4 L700.5 198.3 L713.5 192.1 L728.5 185.9 L744.3 180.2Z" fill="#b40426" stroke="#b40426" stroke-width="0.6" fill-rule="evenodd"/>
</g>
<g clip-path="url(#clipB)"><g mask="url(#maskB)" fill="none" stroke="#000" stroke-width="1.1">
<path d="M851.0 392.2 L851.4 383.2 L851.0 375.2 L849.7 369.2 L847.5 364.4 L843.5 359.3 L839.5 356.2 L834.8 354.2 L829.5 353.4 L823.5 354.1 L818.5 356.2 L814.5 359.3 L810.5 364.4 L808.3 369.2 L807.0 375.2 L806.6 383.2 L807.0 392.2"/>
<path d="M892.6 392.2 L892.5 382.0 L891.5 375.9 L889.5 368.9 L887.5 364.1 L884.3 358.2 L881.5 354.1 L876.5 348.2 L872.2 344.2 L866.9 340.2 L862.1 337.2 L855.5 334.0 L849.5 331.9 L842.5 330.1 L829.5 328.8 L816.5 329.9 L804.5 333.2 L797.8 336.2 L792.6 339.2 L787.0 343.2 L782.5 347.2 L778.5 351.6 L774.5 356.9 L771.4 362.2 L768.5 368.9 L766.5 375.9 L765.5 382.0 L765.4 392.2"/>
<path d="M922.0 392.2 L922.1 385.2 L921.5 377.2 L919.5 367.2 L916.5 358.2 L912.5 349.8 L908.5 343.1 L902.5 335.2 L896.8 329.2 L888.6 322.2 L882.7 318.2 L873.8 313.2 L864.5 309.2 L854.7 306.2 L844.8 304.2 L835.5 303.2 L829.5 303.1 L822.5 303.2 L813.2 304.2 L803.3 306.2 L793.5 309.2 L786.3 312.2 L778.5 316.2 L769.5 322.2 L762.3 328.2 L755.5 335.2 L749.5 343.1 L745.5 349.8 L741.5 358.2 L738.5 367.2 L736.5 377.2 L735.9 385.2 L736.0 392.2"/>
<path d="M942.4 392.2 L942.4 384.2 L941.5 374.0 L939.5 364.0 L935.5 351.9 L931.5 343.2 L925.5 333.2 L918.5 324.1 L910.9 316.2 L902.5 309.1 L892.5 302.3 L883.0 297.2 L873.6 293.2 L864.5 290.2 L851.7 287.2 L840.5 285.7 L829.5 285.2 L817.5 285.7 L806.3 287.2 L793.5 290.2 L784.4 293.2 L775.0 297.2 L765.5 302.3 L755.5 309.1 L747.1 316.2 L739.5 324.1 L732.5 333.2 L726.5 343.2 L722.5 351.9 L718.5 364.0 L716.5 374.0 L715.6 384.2 L715.6 392.2"/>
<path d="M958.0 392.2 L957.8 380.2 L956.1 367.2 L954.0 358.2 L950.0 346.2 L944.8 335.2 L938.1 324.2 L931.3 315.2 L922.5 305.9 L911.5 296.5 L901.5 289.7 L890.5 283.7 L879.5 278.9 L866.5 274.7 L854.5 272.0 L842.5 270.3 L829.5 269.7 L816.5 270.2 L803.5 272.0 L791.5 274.7 L778.5 278.9 L767.5 283.7 L756.5 289.7 L746.5 296.5 L735.5 305.9 L726.7 315.2 L719.9 324.2 L713.2 335.2 L708.0 346.2 L704.0 358.2 L701.9 367.2 L700.2 380.2 L700.0 392.2"/>
<path d="M977.6 392.2 L977.4 379.2 L975.6 365.2 L972.2 351.2 L967.9 339.2 L962.1 327.2 L953.9 314.2 L945.1 303.2 L935.5 293.5 L923.5 283.6 L914.5 277.5 L902.5 270.8 L888.5 264.7 L873.5 259.8 L859.5 256.6 L844.5 254.6 L829.5 253.9 L813.5 254.6 L798.5 256.6 L785.5 259.5 L772.5 263.6 L760.5 268.5 L746.5 275.7 L734.5 283.6 L722.5 293.5 L712.9 303.2 L704.1 314.2 L695.9 327.2 L690.1 339.2 L685.8 351.2 L682.4 365.2 L680.6 379.2 L680.4 392.2"/>
<path d="M993.5 392.2 L994.9 373.2 L994.8 363.2 L993.2 347.2 L989.9 333.2 L984.5 318.2 L976.5 301.8 L966.5 286.2 L957.5 275.1 L951.6 269.2 L945.5 264.2 L933.5 256.2 L916.5 247.2 L900.8 240.2 L886.3 235.2 L869.7 231.2 L856.5 229.2 L836.5 228.1 L814.5 228.2 L801.4 229.2 L783.4 232.2 L768.4 236.2 L752.3 242.2 L733.5 251.2 L724.5 256.2 L716.8 261.2 L705.4 270.2 L698.5 277.2 L694.5 282.2 L683.5 298.2 L675.5 313.6 L669.0 330.2 L665.0 346.2 L663.2 362.2 L663.1 373.2 L664.5 392.2"/>
<path d="M1036.9 392.2 L1036.9 387.2 L1035.5 379.3 L1030.5 360.2 L1023.8 342.2 L1015.0 324.2 L1004.0 306.2 L993.1 291.2 L984.0 281.2 L965.5 263.6 L952.5 252.7 L935.5 240.7 L917.5 230.4 L900.5 222.7 L883.5 216.8 L865.2 212.2 L846.5 209.5 L829.5 208.7 L812.5 209.4 L792.8 212.2 L774.5 216.8 L757.5 222.7 L740.5 230.4 L722.5 240.7 L709.5 249.6 L693.5 262.8 L674.0 281.2 L664.9 291.2 L654.0 306.2 L643.0 324.2 L634.2 342.2 L627.5 360.2 L622.5 379.3 L621.1 387.2 L621.1 392.2"/>
<path d="M1037.5 297.5 L1028.5 285.3 L1019.5 274.8 L1011.0 266.2 L1000.8 257.2 L990.4 249.2 L976.5 239.8 L956.5 227.7 L945.5 221.8 L932.5 215.7 L917.5 209.6 L900.5 203.8 L886.5 199.7 L873.5 196.7 L860.5 194.6 L849.5 193.4 L829.5 192.6 L816.5 192.9 L797.5 194.6 L784.5 196.7 L771.5 199.7 L757.5 203.8 L740.5 209.6 L725.5 215.7 L712.5 221.8 L701.5 227.7 L681.5 239.8 L667.6 249.2 L657.2 257.2 L647.0 266.2 L638.5 274.8 L629.5 285.3 L620.5 297.5"/>
</g></g>
<text x="807" y="198.6" font-size="20" font-family="'DejaVu Sans', sans-serif" text-anchor="middle" transform="rotate(4 807 191.6)">3.6</text>
<text x="717" y="251.4" font-size="20" font-family="'DejaVu Sans', sans-serif" text-anchor="middle" transform="rotate(-38 717 244.4)">3.2</text>
<text x="680" y="374.5" font-size="20" font-family="'DejaVu Sans', sans-serif" text-anchor="middle" transform="rotate(90 680 367.5)">2.4</text>
<text x="761" y="392.0" font-size="20" font-family="'DejaVu Sans', sans-serif" text-anchor="middle" transform="rotate(-90 761 385)">0.8</text>
<text x="846" y="370.7" font-size="20" font-family="'DejaVu Sans', sans-serif" text-anchor="middle" transform="rotate(52 846 363.7)">0.4</text>
<text x="902.9" y="294.4" font-size="20" font-family="'DejaVu Sans', sans-serif" text-anchor="middle" transform="rotate(52 902.9 287.4)">2.0</text>
<text x="910.7" y="321.8" font-size="20" font-family="'DejaVu Sans', sans-serif" text-anchor="middle" transform="rotate(52 910.7 314.8)">1.6</text>
<path d="M624.50 387.70 A204.5 204.5 0 0 1 1033.50 387.70" fill="none" stroke="#000" stroke-width="1.4"/>
<line x1="826.8" y1="387.7" x2="811.15" y2="201.36" stroke="#ff0000" stroke-width="4.2" stroke-dasharray="21 9"/>
<line x1="826.8" y1="387.7" x2="999.41" y2="273.45" stroke="#0000ff" stroke-width="4.5" stroke-dasharray="24 10"/>
<line x1="826.8" y1="387.7" x2="1004.38" y2="192.36" stroke="#000" stroke-width="2.4"/>
<polygon points="1013.8,182 1007.17,198.95 997.55,190.21" fill="#000"/>
<path d="M1053.0 387.7 A224.0 224.0 0 0 0 990.4 232.4" fill="none" stroke="#000" stroke-width="2.4"/>
<polygon points="980.62,222.81 997.86,228.64 989.58,238.66" fill="#000"/>
<text x="1043.4" y="301.6" font-size="35.5" font-family="'DejaVu Serif', serif" font-style="italic">θ</text>
<text x="810.9" y="176.3" font-size="24" font-family="'DejaVu Sans', sans-serif"><tspan font-style="italic">π</tspan>/2</text>
<text x="605.2" y="393.7" font-size="24" font-family="'DejaVu Sans', sans-serif"><tspan font-style="italic">π</tspan></text>
<text x="1056.4" y="395" font-size="24" font-family="'DejaVu Sans', sans-serif">0</text>
<text x="603.3" y="54" font-size="52" font-family="'Liberation Serif', 'Times New Roman', serif">(b)</text>
<text x="606.9" y="123.7" font-size="44" font-family="'Liberation Serif', 'Times New Roman', serif">log</text><text x="664.4" y="134.7" font-size="32.5" font-family="'Liberation Serif', 'Times New Roman', serif">10</text><text x="701.2" y="123.7" font-size="44" font-family="'Liberation Serif', 'Times New Roman', serif" font-style="italic">F</text><text x="729.7" y="109" font-size="38" font-family="'Liberation Serif', 'Times New Roman', serif">(<tspan font-style="italic">θ</tspan>)</text><text transform="translate(774.5 124.5) scale(0.92 1)" font-size="47.5" font-family="'Liberation Serif', 'Times New Roman', serif">(<tspan font-style="italic">s̃</tspan>)</text>
<text x="975.8" y="166.9" font-size="44" font-family="'Liberation Serif', 'Times New Roman', serif">log</text><text x="1033.3" y="177.9" font-size="32.5" font-family="'Liberation Serif', 'Times New Roman', serif">10</text><text x="1070.9" y="166.9" font-size="43" font-family="'Liberation Serif', 'Times New Roman', serif" font-style="italic">s̃</text>
<rect x="1088.6" y="368.00" width="37.40" height="21.40" fill="#4a63d3"/>
<rect x="1088.6" y="347.00" width="37.40" height="21.40" fill="#6c8ff1"/>
<rect x="1088.6" y="326.00" width="37.40" height="21.40" fill="#92b4fe"/>
<rect x="1088.6" y="305.00" width="37.40" height="21.40" fill="#b6cefa"/>
<rect x="1088.6" y="284.00" width="37.40" height="21.40" fill="#d6dce4"/>
<rect x="1088.6" y="263.00" width="37.40" height="21.40" fill="#efcfbf"/>
<rect x="1088.6" y="242.00" width="37.40" height="21.40" fill="#f7b194"/>
<rect x="1088.6" y="221.00" width="37.40" height="21.40" fill="#ef886b"/>
<rect x="1088.6" y="200.00" width="37.40" height="21.40" fill="#d75445"/>
<rect x="1088.6" y="179.00" width="37.40" height="21.40" fill="#b40426"/>
<rect x="1088.6" y="179" width="37.4" height="210" fill="none" stroke="#000" stroke-width="1.6"/>
<line x1="1126" y1="389" x2="1135" y2="389" stroke="#000" stroke-width="1.6"/>
<text x="1143" y="397.6" font-size="18.8" font-family="'DejaVu Sans', sans-serif">0.0</text>
<line x1="1126" y1="347" x2="1135" y2="347" stroke="#000" stroke-width="1.6"/>
<text x="1143" y="355.6" font-size="18.8" font-family="'DejaVu Sans', sans-serif">0.8</text>
<line x1="1126" y1="305" x2="1135" y2="305" stroke="#000" stroke-width="1.6"/>
<text x="1143" y="313.6" font-size="18.8" font-family="'DejaVu Sans', sans-serif">1.6</text>
<line x1="1126" y1="263" x2="1135" y2="263" stroke="#000" stroke-width="1.6"/>
<text x="1143" y="271.6" font-size="18.8" font-family="'DejaVu Sans', sans-serif">2.4</text>
<line x1="1126" y1="221" x2="1135" y2="221" stroke="#000" stroke-width="1.6"/>
<text x="1143" y="229.6" font-size="18.8" font-family="'DejaVu Sans', sans-serif">3.2</text>
<line x1="1126" y1="179" x2="1135" y2="179" stroke="#000" stroke-width="1.6"/>
<text x="1143" y="187.6" font-size="18.8" font-family="'DejaVu Sans', sans-serif">4.0</text>
<g clip-path="url(#clipC)">
<path d="M1400.3 358.9 L1402.3 358.6 L1419.3 360.7 L1449.3 386.7 L1484.3 368.1 L1491.3 370.2 L1502.3 372.4 L1508.3 375.0 L1513.1 380.0 L1515.0 385.0 L1515.1 391.0 L1383.5 391.0 L1383.3 386.0 L1384.3 379.2 L1385.5 375.0 L1388.1 369.0 L1390.4 365.0 L1392.3 362.9 L1396.6 360.0 L1399.9 359.0Z" fill="#85a8fc" stroke="#85a8fc" stroke-width="0.6" fill-rule="evenodd"/>
<path d="M1483.3 347.9 L1491.3 349.4 L1507.3 354.9 L1511.3 357.4 L1514.4 360.0 L1518.7 366.0 L1522.3 374.4 L1524.0 383.0 L1524.1 391.0 L1515.1 391.0 L1515.2 386.0 L1514.2 382.0 L1511.6 378.0 L1508.3 375.0 L1502.3 372.4 L1491.3 370.2 L1484.3 368.1 L1449.3 386.7 L1419.3 360.7 L1402.3 358.6 L1398.3 359.3 L1394.3 361.4 L1391.2 364.0 L1389.2 367.0 L1386.3 372.9 L1384.3 379.2 L1383.3 386.0 L1383.5 391.0 L1374.4 391.0 L1374.4 384.0 L1375.6 376.0 L1377.3 370.0 L1381.0 362.0 L1383.1 359.0 L1386.3 356.0 L1391.3 352.5 L1397.3 349.1 L1400.3 348.8 L1420.3 348.7 L1425.3 349.4 L1430.3 351.2 L1431.2 352.0 L1448.3 385.0 L1449.3 386.2 L1450.6 385.0 L1470.7 354.0 L1475.3 351.2 L1483.1 348.0Z" fill="#a2c1ff" stroke="#a2c1ff" stroke-width="0.6" fill-rule="evenodd"/>
<path d="M1657.3 319.8 L1658.3 319.5 L1658.3 391.0 L1628.6 391.0 L1628.1 363.0 L1625.7 333.0 L1625.7 330.0 L1656.6 320.0Z M1444.3 332.9 L1452.3 332.2 L1459.3 332.7 L1466.3 334.1 L1476.3 337.2 L1490.3 339.0 L1500.3 342.1 L1508.3 345.7 L1514.3 349.1 L1518.3 352.5 L1521.3 356.0 L1523.3 359.5 L1525.5 365.0 L1527.6 372.0 L1528.7 378.0 L1529.2 391.0 L1524.1 391.0 L1524.0 383.0 L1522.2 374.0 L1518.1 365.0 L1516.1 362.0 L1513.4 359.0 L1507.3 354.9 L1491.3 349.4 L1483.3 347.9 L1475.3 351.2 L1470.7 354.0 L1450.6 385.0 L1449.3 386.2 L1448.3 385.0 L1431.2 352.0 L1430.3 351.2 L1425.3 349.4 L1420.3 348.7 L1400.3 348.8 L1397.3 349.1 L1387.6 355.0 L1384.1 358.0 L1381.6 361.0 L1378.3 367.5 L1375.9 375.0 L1374.5 383.0 L1374.4 391.0 L1367.4 391.0 L1367.4 385.0 L1368.1 378.0 L1371.2 367.0 L1373.8 361.0 L1376.1 357.0 L1379.3 353.2 L1383.0 350.0 L1390.3 345.3 L1394.3 343.7 L1399.3 342.6 L1408.3 341.7 L1417.3 339.1 L1428.3 337.0 L1436.3 334.5 L1443.4 333.0Z M1241.3 354.8 L1266.3 358.7 L1266.9 391.0 L1240.3 391.0 L1240.3 354.7Z" fill="#bed2f6" stroke="#bed2f6" stroke-width="0.6" fill-rule="evenodd"/>
<path d="M1657.3 256.9 L1658.3 256.3 L1658.3 319.5 L1625.7 330.0 L1628.1 364.0 L1628.6 391.0 L1617.3 391.0 L1616.9 374.0 L1614.8 357.0 L1611.9 343.0 L1605.3 321.0 L1602.3 308.5 L1605.9 290.0 L1606.3 288.8 L1657.1 257.0Z M1241.2 299.0 L1278.3 314.7 L1279.3 316.0 L1281.4 322.0 L1281.8 326.0 L1279.4 342.0 L1277.8 364.0 L1277.1 391.0 L1266.9 391.0 L1266.3 358.7 L1240.3 354.7 L1240.3 298.6Z M1449.3 322.0 L1457.3 322.2 L1466.3 323.6 L1494.3 331.1 L1505.3 335.5 L1516.3 342.3 L1521.5 347.0 L1525.3 351.4 L1528.2 356.0 L1530.4 361.0 L1532.7 368.0 L1534.3 375.2 L1535.2 384.0 L1535.2 391.0 L1529.2 391.0 L1528.7 378.0 L1527.6 372.0 L1525.5 365.0 L1523.3 359.5 L1521.3 356.0 L1518.3 352.5 L1514.3 349.1 L1508.3 345.7 L1500.3 342.1 L1492.3 339.5 L1487.3 338.4 L1476.3 337.2 L1467.3 334.4 L1461.3 333.0 L1452.3 332.2 L1441.3 333.4 L1428.3 337.0 L1417.3 339.1 L1408.3 341.7 L1395.3 343.4 L1391.3 344.8 L1385.8 348.0 L1381.3 351.3 L1377.3 355.4 L1374.8 359.0 L1372.0 365.0 L1369.8 371.0 L1368.3 376.9 L1367.4 384.0 L1367.4 391.0 L1362.4 391.0 L1362.4 383.0 L1363.2 375.0 L1364.7 368.0 L1366.9 361.0 L1369.1 356.0 L1371.2 353.0 L1379.8 345.0 L1386.3 340.4 L1390.3 338.7 L1404.3 335.4 L1414.3 331.2 L1434.3 324.5 L1441.3 322.9 L1449.3 322.0Z" fill="#d7dce3" stroke="#d7dce3" stroke-width="0.6" fill-rule="evenodd"/>
<path d="M1658.3 197.8 L1658.3 256.3 L1606.3 288.8 L1605.9 290.0 L1602.3 308.5 L1605.3 321.0 L1611.9 343.0 L1614.8 357.0 L1616.9 374.0 L1617.3 391.0 L1610.3 391.0 L1609.4 374.0 L1606.2 354.0 L1602.5 340.0 L1590.2 303.0 L1583.1 279.0 L1584.1 271.0 L1586.3 263.3 L1587.3 262.1 L1658.1 198.0Z M1241.3 275.7 L1285.3 299.2 L1286.3 300.0 L1289.9 307.0 L1290.1 313.0 L1289.5 323.0 L1285.5 345.0 L1283.5 361.0 L1282.8 376.0 L1282.7 391.0 L1277.1 391.0 L1277.4 371.0 L1278.9 347.0 L1281.9 325.0 L1280.5 319.0 L1279.3 316.0 L1278.3 314.7 L1240.3 298.6 L1240.3 275.1Z M1449.3 314.0 L1460.3 314.5 L1470.3 316.1 L1478.3 318.2 L1499.3 325.1 L1509.3 330.0 L1521.3 339.0 L1525.6 343.0 L1529.7 348.0 L1532.7 353.0 L1535.3 359.0 L1537.8 367.0 L1539.4 375.0 L1540.2 383.0 L1540.2 391.0 L1535.2 391.0 L1535.2 383.0 L1534.1 374.0 L1531.8 365.0 L1528.3 356.1 L1523.3 348.9 L1515.3 341.5 L1505.3 335.5 L1494.3 331.1 L1466.3 323.6 L1459.3 322.4 L1451.3 322.0 L1441.3 322.9 L1432.3 325.1 L1414.3 331.2 L1404.3 335.4 L1389.3 339.0 L1383.3 342.4 L1374.0 350.0 L1369.1 356.0 L1365.9 364.0 L1363.6 373.0 L1362.5 382.0 L1362.4 391.0 L1357.4 391.0 L1357.4 383.0 L1358.0 376.0 L1359.5 368.0 L1361.5 361.0 L1363.8 355.0 L1366.0 351.0 L1369.3 346.8 L1373.3 343.0 L1381.1 337.0 L1385.3 334.4 L1399.3 329.3 L1414.3 322.7 L1433.3 316.3 L1441.3 314.7 L1449.3 314.0Z" fill="#ebd3c6" stroke="#ebd3c6" stroke-width="0.6" fill-rule="evenodd"/>
<path d="M1614.3 178.6 L1614.8 178.0 L1658.3 178.0 L1658.3 197.8 L1587.3 262.1 L1586.3 263.3 L1584.6 269.0 L1583.1 279.0 L1590.2 303.0 L1602.5 340.0 L1606.4 355.0 L1609.4 374.0 L1610.3 391.0 L1604.2 391.0 L1604.2 385.0 L1603.1 374.0 L1599.9 356.0 L1595.1 339.0 L1588.3 321.3 L1582.3 308.4 L1575.4 296.0 L1569.9 288.0 L1563.3 280.8 L1553.3 272.5 L1542.3 265.7 L1532.9 261.0 L1505.3 248.8 L1492.3 243.7 L1479.3 239.3 L1464.3 234.9 L1444.9 230.0 L1442.4 229.0 L1453.3 227.6 L1467.3 226.7 L1480.3 226.9 L1487.3 227.8 L1497.3 229.8 L1507.3 232.4 L1520.6 237.0 L1543.3 246.2 L1549.3 247.7 L1551.3 247.5 L1558.3 245.1 L1564.3 241.7 L1614.0 179.0Z M1241.3 251.9 L1293.8 286.0 L1296.7 294.0 L1297.2 300.0 L1297.2 313.0 L1295.6 325.0 L1292.5 340.0 L1290.8 354.0 L1289.5 372.0 L1289.4 391.0 L1282.7 391.0 L1282.8 376.0 L1283.5 361.0 L1285.5 345.0 L1289.5 323.0 L1290.1 313.0 L1289.9 307.0 L1286.3 300.0 L1285.3 299.2 L1240.3 275.1 L1240.3 251.3Z M1449.3 307.0 L1458.3 307.3 L1466.3 308.3 L1474.3 309.8 L1482.3 312.1 L1497.3 317.7 L1507.3 322.3 L1515.3 327.0 L1523.3 333.3 L1528.3 338.1 L1533.1 344.0 L1536.8 350.0 L1539.5 356.0 L1542.1 364.0 L1544.1 373.0 L1545.2 382.0 L1545.2 391.0 L1540.2 391.0 L1540.1 381.0 L1538.9 372.0 L1536.6 363.0 L1533.3 354.1 L1528.2 346.0 L1524.3 341.7 L1520.3 338.2 L1509.3 330.0 L1499.3 325.1 L1478.3 318.2 L1471.3 316.3 L1461.3 314.6 L1451.3 314.0 L1438.3 315.2 L1431.3 316.8 L1424.3 319.1 L1410.3 324.3 L1398.3 329.7 L1387.3 333.5 L1382.3 336.2 L1375.3 341.3 L1368.3 347.9 L1363.8 355.0 L1360.6 364.0 L1358.5 373.0 L1357.5 382.0 L1357.4 391.0 L1352.4 391.0 L1352.9 376.0 L1354.8 366.0 L1358.0 356.0 L1360.2 351.0 L1363.4 346.0 L1367.3 341.4 L1373.3 335.8 L1378.3 331.8 L1384.3 328.2 L1402.5 319.0 L1413.3 314.4 L1423.3 311.0 L1431.3 308.9 L1440.3 307.5 L1449.3 307.0Z" fill="#f6bfa6" stroke="#f6bfa6" stroke-width="0.6" fill-rule="evenodd"/>
<path d="M1553.3 178.3 L1614.8 178.0 L1564.3 241.7 L1558.3 245.1 L1550.3 247.8 L1547.3 247.4 L1541.3 245.5 L1522.3 237.6 L1510.3 233.4 L1497.3 229.8 L1485.3 227.5 L1480.3 226.9 L1467.3 226.7 L1453.3 227.6 L1442.4 229.0 L1480.3 239.6 L1494.3 244.4 L1506.3 249.3 L1532.9 261.0 L1543.3 266.2 L1556.3 274.7 L1564.6 282.0 L1569.1 287.0 L1572.8 292.0 L1579.3 302.7 L1586.9 318.0 L1593.4 334.0 L1597.9 348.0 L1601.4 363.0 L1603.6 378.0 L1604.2 391.0 L1598.2 391.0 L1598.1 384.0 L1596.9 374.0 L1595.3 365.0 L1592.7 355.0 L1589.3 344.5 L1584.8 333.0 L1580.7 324.0 L1575.8 315.0 L1567.2 302.0 L1557.9 291.0 L1548.3 282.8 L1536.3 275.3 L1505.3 261.2 L1494.3 257.1 L1485.3 254.4 L1476.3 252.4 L1462.3 250.4 L1440.3 250.2 L1423.3 252.4 L1406.3 256.8 L1377.3 267.0 L1374.3 266.4 L1371.3 264.9 L1367.2 262.0 L1366.8 261.0 L1367.0 259.0 L1367.7 258.0 L1379.1 243.0 L1381.5 240.0 L1388.3 234.0 L1395.3 229.3 L1402.3 225.6 L1411.3 222.1 L1420.3 219.4 L1429.3 217.5 L1439.3 216.1 L1450.3 215.3 L1460.3 215.2 L1495.3 217.0 L1512.3 218.8 L1530.3 221.3 L1532.0 221.0 L1552.9 179.0Z M1240.5 217.0 L1305.3 269.8 L1306.7 273.0 L1308.0 279.0 L1308.0 284.0 L1304.3 311.3 L1303.3 325.0 L1300.0 343.0 L1298.1 357.0 L1297.1 373.0 L1297.3 391.0 L1289.4 391.0 L1289.5 372.0 L1290.8 354.0 L1292.5 340.0 L1295.6 325.0 L1297.2 313.0 L1297.2 300.0 L1296.7 294.0 L1293.8 286.0 L1240.3 251.3 L1240.3 216.9Z M1449.3 300.0 L1458.3 300.4 L1466.3 301.4 L1474.3 303.1 L1482.3 305.6 L1501.3 313.2 L1511.3 317.8 L1519.3 322.5 L1525.3 327.5 L1531.3 333.4 L1536.3 339.6 L1540.4 346.0 L1543.7 353.0 L1546.8 362.0 L1548.9 371.0 L1550.1 380.0 L1550.2 391.0 L1545.2 391.0 L1545.0 380.0 L1543.6 370.0 L1540.9 360.0 L1537.4 351.0 L1534.5 346.0 L1530.8 341.0 L1526.3 336.1 L1521.3 331.6 L1514.3 326.3 L1506.3 321.8 L1496.3 317.3 L1482.3 312.1 L1474.3 309.8 L1466.3 308.3 L1458.3 307.3 L1449.3 307.0 L1440.3 307.5 L1432.3 308.7 L1424.3 310.7 L1414.5 314.0 L1403.3 318.6 L1386.3 327.2 L1380.3 330.5 L1375.4 334.0 L1369.3 339.4 L1365.0 344.0 L1361.4 349.0 L1358.8 354.0 L1355.9 362.0 L1353.7 371.0 L1352.5 380.0 L1352.4 391.0 L1344.4 391.0 L1344.5 383.0 L1345.5 375.0 L1347.7 365.0 L1349.9 358.0 L1353.2 350.0 L1357.0 343.0 L1361.3 337.2 L1365.3 333.2 L1369.3 330.2 L1382.3 321.9 L1398.3 313.2 L1409.3 308.3 L1420.3 304.4 L1429.3 302.0 L1439.3 300.5 L1449.3 300.0Z" fill="#f6a385" stroke="#f6a385" stroke-width="0.6" fill-rule="evenodd"/>
<path d="M1241.3 178.0 L1248.5 178.0 L1320.6 253.0 L1325.3 260.0 L1330.3 260.9 L1334.3 260.2 L1338.3 258.0 L1342.8 254.0 L1346.0 250.0 L1352.3 238.0 L1352.1 230.0 L1320.3 178.0 L1553.4 178.0 L1532.0 221.0 L1530.3 221.3 L1512.3 218.8 L1495.3 217.0 L1460.3 215.2 L1450.3 215.3 L1439.3 216.1 L1429.3 217.5 L1420.3 219.4 L1411.3 222.1 L1402.3 225.6 L1395.3 229.3 L1388.3 234.0 L1381.5 240.0 L1379.1 243.0 L1367.7 258.0 L1367.0 259.0 L1366.8 261.0 L1367.2 262.0 L1371.3 264.9 L1374.3 266.4 L1377.3 267.0 L1406.3 256.8 L1423.3 252.4 L1440.3 250.2 L1462.3 250.4 L1476.3 252.4 L1485.3 254.4 L1494.3 257.1 L1506.3 261.7 L1530.3 272.3 L1537.3 275.8 L1549.3 283.5 L1559.3 292.5 L1564.9 299.0 L1570.1 306.0 L1579.1 321.0 L1586.9 338.0 L1593.6 358.0 L1597.2 376.0 L1598.2 386.0 L1598.2 391.0 L1592.1 391.0 L1592.3 387.0 L1588.8 378.0 L1580.8 351.0 L1575.5 337.0 L1569.8 325.0 L1564.5 316.0 L1558.9 308.0 L1553.2 301.0 L1547.3 295.1 L1538.1 288.0 L1525.4 280.0 L1511.3 272.5 L1496.3 265.8 L1485.0 262.0 L1472.3 259.1 L1461.3 257.6 L1449.3 257.0 L1438.3 258.2 L1425.3 262.0 L1405.0 271.0 L1394.3 277.3 L1386.9 283.0 L1381.3 288.0 L1375.6 294.0 L1372.5 298.0 L1371.0 301.0 L1370.1 304.0 L1370.3 308.0 L1371.3 312.2 L1376.3 312.8 L1384.3 311.5 L1401.3 303.2 L1421.3 296.4 L1433.3 294.1 L1446.3 293.0 L1460.3 293.6 L1474.3 296.3 L1481.3 298.5 L1493.3 303.6 L1508.3 309.0 L1517.3 313.6 L1526.3 320.4 L1536.5 331.0 L1544.5 342.0 L1549.4 352.0 L1553.6 365.0 L1556.0 378.0 L1556.3 391.0 L1550.2 391.0 L1550.1 380.0 L1548.7 370.0 L1545.5 358.0 L1541.5 348.0 L1538.3 342.5 L1534.3 336.9 L1529.3 331.3 L1523.3 325.7 L1517.3 321.2 L1509.3 316.8 L1481.3 305.3 L1473.3 302.9 L1465.3 301.3 L1457.3 300.3 L1449.3 300.0 L1439.3 300.5 L1429.5 302.0 L1421.3 304.1 L1410.3 307.9 L1398.3 313.2 L1383.3 321.3 L1366.3 332.3 L1361.3 337.2 L1357.3 342.6 L1353.3 349.9 L1349.9 358.0 L1347.7 365.0 L1345.5 375.0 L1344.5 383.0 L1344.4 391.0 L1332.6 391.0 L1332.9 384.0 L1335.0 370.0 L1337.7 358.0 L1342.1 344.0 L1343.0 336.0 L1341.7 324.0 L1340.3 320.0 L1339.8 317.0 L1339.5 307.0 L1338.8 301.0 L1337.1 296.0 L1332.3 290.8 L1331.3 290.5 L1328.1 292.0 L1324.3 295.2 L1322.0 298.0 L1319.6 303.0 L1317.4 312.0 L1317.4 316.0 L1317.9 318.0 L1317.5 321.0 L1309.5 345.0 L1305.6 361.0 L1303.7 376.0 L1303.4 391.0 L1297.3 391.0 L1297.1 375.0 L1297.7 361.0 L1299.7 345.0 L1303.3 325.0 L1304.3 311.3 L1307.9 285.0 L1308.0 279.0 L1306.9 274.0 L1305.3 269.8 L1240.3 216.9 L1240.3 178.0Z" fill="#ec8165" stroke="#ec8165" stroke-width="0.6" fill-rule="evenodd"/>
<path d="M1249.3 178.0 L1320.3 178.0 L1352.1 230.0 L1352.3 238.0 L1346.0 250.0 L1342.8 254.0 L1338.3 258.0 L1334.3 260.2 L1330.3 260.9 L1325.3 260.0 L1320.6 253.0 L1248.5 178.0Z M1440.3 257.8 L1450.3 257.0 L1465.3 258.0 L1478.3 260.3 L1491.4 264.0 L1503.9 269.0 L1522.3 278.3 L1536.6 287.0 L1547.2 295.0 L1554.1 302.0 L1561.3 311.2 L1567.5 321.0 L1573.3 332.0 L1577.5 342.0 L1581.8 354.0 L1588.8 378.0 L1592.3 387.0 L1592.1 391.0 L1556.3 391.0 L1555.8 377.0 L1554.7 370.0 L1552.5 361.0 L1549.8 353.0 L1546.7 346.0 L1543.3 340.0 L1539.0 334.0 L1533.3 327.4 L1527.3 321.3 L1522.3 317.1 L1517.3 313.6 L1507.3 308.5 L1494.3 304.0 L1481.3 298.5 L1470.3 295.3 L1459.3 293.5 L1447.3 293.0 L1435.3 293.8 L1423.3 295.9 L1410.3 299.9 L1397.3 304.9 L1384.3 311.5 L1376.3 312.8 L1371.3 312.2 L1370.1 305.0 L1370.6 302.0 L1371.9 299.0 L1373.9 296.0 L1378.4 291.0 L1388.3 281.9 L1399.3 274.1 L1411.3 268.0 L1426.3 261.7 L1439.4 258.0Z M1442.5 265.0 L1433.3 268.0 L1412.3 277.3 L1403.3 282.4 L1399.8 285.0 L1399.3 286.2 L1403.3 288.2 L1407.3 288.6 L1411.3 288.5 L1422.3 286.5 L1429.3 285.8 L1457.3 285.7 L1466.3 286.6 L1476.3 288.4 L1490.3 292.5 L1512.3 301.1 L1518.3 304.2 L1525.3 308.8 L1531.3 313.7 L1546.3 327.3 L1557.3 338.7 L1560.3 342.8 L1561.0 343.0 L1561.3 344.5 L1561.6 344.0 L1560.2 339.0 L1556.3 327.6 L1554.3 323.0 L1549.7 315.0 L1545.3 309.0 L1540.0 303.0 L1533.3 297.0 L1527.8 293.0 L1516.8 286.0 L1505.8 280.0 L1495.1 275.0 L1481.7 270.0 L1471.3 267.0 L1465.3 265.8 L1453.3 264.6 L1443.3 264.9Z M1330.3 290.9 L1331.3 290.5 L1332.3 290.8 L1337.1 296.0 L1338.8 301.0 L1339.5 307.0 L1339.8 317.0 L1340.3 320.0 L1341.7 324.0 L1343.0 336.0 L1342.1 344.0 L1337.7 358.0 L1335.0 370.0 L1332.9 384.0 L1332.6 391.0 L1303.4 391.0 L1303.7 376.0 L1305.6 361.0 L1309.5 345.0 L1317.5 321.0 L1317.9 318.0 L1317.4 316.0 L1317.4 312.0 L1318.7 306.0 L1320.4 301.0 L1322.3 297.6 L1325.5 294.0 L1330.0 291.0Z" fill="#d95847" stroke="#d95847" stroke-width="0.6" fill-rule="evenodd"/>
<path d="M1443.3 264.9 L1453.3 264.6 L1465.3 265.8 L1471.3 267.0 L1481.7 270.0 L1495.1 275.0 L1505.8 280.0 L1516.8 286.0 L1527.8 293.0 L1533.3 297.0 L1540.0 303.0 L1545.3 309.0 L1549.7 315.0 L1554.3 323.0 L1556.3 327.6 L1560.2 339.0 L1561.6 344.0 L1561.3 344.5 L1561.0 343.0 L1560.3 342.8 L1557.3 338.7 L1546.3 327.3 L1531.3 313.7 L1525.3 308.8 L1518.3 304.2 L1512.3 301.1 L1490.3 292.5 L1476.3 288.4 L1466.3 286.6 L1457.3 285.7 L1429.3 285.8 L1422.3 286.5 L1411.3 288.5 L1407.3 288.6 L1403.3 288.2 L1399.3 286.2 L1399.8 285.0 L1403.3 282.4 L1412.3 277.3 L1433.3 268.0 L1442.5 265.0Z" fill="#be242e" stroke="#be242e" stroke-width="0.6" fill-rule="evenodd"/>
</g>
<g clip-path="url(#clipC)"><g mask="url(#maskC)" fill="none" stroke="#000" stroke-width="1.0">
<path d="M1515.1 391.0 L1515.0 385.0 L1513.1 380.0 L1508.3 375.0 L1502.3 372.4 L1491.3 370.2 L1484.3 368.1 L1449.3 386.7 L1419.3 360.7 L1402.3 358.6 L1398.3 359.3 L1394.3 361.4 L1391.2 364.0 L1389.2 367.0 L1386.3 372.9 L1384.3 379.2 L1383.3 386.0 L1383.5 391.0"/>
<path d="M1524.1 391.0 L1524.0 383.0 L1522.3 374.4 L1518.7 366.0 L1514.4 360.0 L1511.3 357.4 L1507.3 354.9 L1491.3 349.4 L1483.3 347.9 L1475.3 351.2 L1470.7 354.0 L1450.6 385.0 L1449.3 386.2 L1448.3 385.0 L1431.2 352.0 L1430.3 351.2 L1425.3 349.4 L1420.3 348.7 L1400.3 348.8 L1397.3 349.1 L1391.3 352.5 L1386.3 356.0 L1383.1 359.0 L1381.0 362.0 L1377.3 370.0 L1375.6 376.0 L1374.4 384.0 L1374.4 391.0"/>
<path d="M1658.3 319.5 L1625.7 330.0 L1628.1 364.0 L1628.6 391.0 M1266.9 391.0 L1266.3 358.7 L1240.3 354.7 M1529.2 391.0 L1528.7 378.0 L1525.9 366.0 L1521.9 357.0 L1518.8 353.0 L1515.3 349.8 L1507.3 345.2 L1499.3 341.7 L1493.3 339.7 L1487.3 338.4 L1476.3 337.2 L1462.3 333.2 L1452.3 332.2 L1441.3 333.4 L1428.3 337.0 L1417.3 339.1 L1408.3 341.7 L1395.3 343.4 L1390.9 345.0 L1384.3 349.0 L1380.3 352.2 L1376.8 356.0 L1374.3 360.0 L1371.5 366.0 L1368.3 377.0 L1367.4 384.0 L1367.4 391.0"/>
<path d="M1658.3 256.3 L1606.2 289.0 L1602.3 308.5 L1605.3 321.0 L1611.9 343.0 L1614.8 357.0 L1616.9 374.0 L1617.3 391.0 M1277.1 391.0 L1277.4 371.0 L1278.9 347.0 L1281.9 325.0 L1280.1 318.0 L1278.3 314.7 L1240.3 298.6 M1535.2 391.0 L1535.2 384.0 L1534.3 375.2 L1532.7 368.0 L1530.4 361.0 L1528.2 356.0 L1525.3 351.4 L1521.5 347.0 L1516.3 342.3 L1506.2 336.0 L1495.3 331.4 L1467.3 323.8 L1459.3 322.4 L1451.3 322.0 L1441.3 322.9 L1431.3 325.4 L1414.3 331.2 L1404.3 335.4 L1389.3 339.0 L1385.3 341.0 L1380.3 344.6 L1375.1 349.0 L1371.3 352.9 L1369.1 356.0 L1367.3 360.1 L1364.7 368.0 L1363.2 375.0 L1362.4 383.0 L1362.4 391.0"/>
<path d="M1658.3 197.8 L1587.3 262.1 L1586.3 263.3 L1584.6 269.0 L1583.1 279.0 L1590.2 303.0 L1602.5 340.0 L1606.4 355.0 L1609.4 374.0 L1610.3 391.0 M1282.7 391.0 L1282.8 376.0 L1283.5 361.0 L1285.5 345.0 L1289.5 323.0 L1290.1 313.0 L1289.9 307.0 L1286.3 300.0 L1285.3 299.2 L1240.3 275.1 M1540.2 391.0 L1540.2 383.0 L1539.4 375.0 L1537.8 367.0 L1535.7 360.0 L1533.2 354.0 L1530.4 349.0 L1526.5 344.0 L1522.3 339.8 L1510.3 330.7 L1505.3 327.7 L1499.3 325.1 L1478.3 318.2 L1471.3 316.3 L1461.3 314.6 L1451.3 314.0 L1444.3 314.4 L1436.3 315.6 L1428.3 317.7 L1419.3 320.9 L1408.3 325.1 L1398.3 329.7 L1386.3 334.0 L1381.3 336.8 L1374.3 342.1 L1370.1 346.0 L1366.7 350.0 L1364.3 354.0 L1361.9 360.0 L1359.8 367.0 L1358.2 375.0 L1357.4 383.0 L1357.4 391.0"/>
<path d="M1614.8 178.0 L1564.3 241.7 L1558.3 245.1 L1551.3 247.5 L1549.3 247.7 L1543.3 246.2 L1520.6 237.0 L1507.3 232.4 L1497.3 229.8 L1487.3 227.8 L1480.3 226.9 L1467.3 226.7 L1453.3 227.6 L1442.4 229.0 L1480.3 239.6 L1494.3 244.4 L1506.3 249.3 L1532.9 261.0 L1543.3 266.2 L1556.3 274.7 L1564.6 282.0 L1569.1 287.0 L1572.8 292.0 L1579.3 302.7 L1586.9 318.0 L1593.4 334.0 L1597.9 348.0 L1601.4 363.0 L1603.6 378.0 L1604.2 391.0 M1289.4 391.0 L1289.5 372.0 L1290.7 355.0 L1292.5 340.0 L1296.1 322.0 L1297.4 310.0 L1296.9 295.0 L1294.3 286.8 L1293.3 285.7 L1240.3 251.3 M1545.2 391.0 L1545.2 382.0 L1544.1 373.0 L1542.1 364.0 L1539.5 356.0 L1536.8 350.0 L1533.1 344.0 L1528.3 338.1 L1523.3 333.3 L1515.3 327.0 L1507.3 322.3 L1497.3 317.7 L1482.3 312.1 L1474.3 309.8 L1466.3 308.3 L1458.3 307.3 L1449.3 307.0 L1440.3 307.5 L1431.3 308.9 L1423.3 311.0 L1413.3 314.4 L1402.5 319.0 L1384.3 328.2 L1378.3 331.8 L1373.3 335.8 L1367.3 341.4 L1363.4 346.0 L1360.2 351.0 L1358.0 356.0 L1354.8 366.0 L1352.9 376.0 L1352.4 391.0"/>
<path d="M1553.4 178.0 L1532.0 221.0 L1530.3 221.3 L1512.3 218.8 L1495.3 217.0 L1460.3 215.2 L1450.3 215.3 L1439.3 216.1 L1429.3 217.5 L1420.3 219.4 L1411.3 222.1 L1402.3 225.6 L1395.3 229.3 L1388.3 234.0 L1381.5 240.0 L1379.1 243.0 L1367.7 258.0 L1367.0 259.0 L1366.8 261.0 L1367.2 262.0 L1371.3 264.9 L1374.3 266.4 L1377.3 267.0 L1406.3 256.8 L1423.3 252.4 L1440.3 250.2 L1462.3 250.4 L1476.3 252.4 L1485.3 254.4 L1494.3 257.1 L1506.3 261.7 L1530.3 272.3 L1537.3 275.8 L1549.3 283.5 L1559.3 292.5 L1564.9 299.0 L1570.1 306.0 L1579.1 321.0 L1586.9 338.0 L1593.6 358.0 L1597.2 376.0 L1598.2 386.0 L1598.2 391.0 M1297.3 391.0 L1297.1 373.0 L1298.1 357.0 L1300.0 343.0 L1303.3 325.0 L1304.3 311.3 L1308.0 284.0 L1308.0 279.0 L1306.1 271.0 L1305.3 269.8 L1240.3 216.9 M1550.2 391.0 L1550.1 380.0 L1548.9 371.0 L1546.8 362.0 L1543.7 353.0 L1540.4 346.0 L1536.3 339.6 L1531.3 333.4 L1525.3 327.5 L1519.3 322.5 L1511.3 317.8 L1501.3 313.2 L1482.3 305.6 L1474.3 303.1 L1466.3 301.4 L1458.3 300.4 L1449.3 300.0 L1439.3 300.5 L1429.3 302.0 L1420.3 304.4 L1409.3 308.3 L1398.3 313.2 L1382.3 321.9 L1369.3 330.2 L1365.3 333.2 L1361.3 337.2 L1357.0 343.0 L1353.2 350.0 L1349.9 358.0 L1347.7 365.0 L1345.5 375.0 L1344.5 383.0 L1344.4 391.0"/>
<path d="M1320.3 178.0 L1352.1 230.0 L1352.3 238.0 L1346.0 250.0 L1342.8 254.0 L1338.3 258.0 L1334.3 260.2 L1330.3 260.9 L1325.3 260.0 L1320.6 253.0 L1248.5 178.0 M1303.4 391.0 L1303.7 376.0 L1305.6 361.0 L1309.5 345.0 L1317.5 321.0 L1317.9 318.0 L1317.4 316.0 L1317.4 312.0 L1319.0 305.0 L1320.8 300.0 L1323.6 296.0 L1327.3 292.6 L1331.3 290.5 L1332.3 290.8 L1337.1 296.0 L1338.8 301.0 L1339.5 307.0 L1339.8 317.0 L1340.3 320.0 L1341.7 324.0 L1343.0 336.0 L1342.1 344.0 L1337.7 358.0 L1335.0 370.0 L1332.9 384.0 L1332.6 391.0 M1556.3 391.0 L1556.0 378.0 L1553.6 365.0 L1549.4 352.0 L1544.5 342.0 L1536.5 331.0 L1526.3 320.4 L1517.3 313.6 L1508.3 309.0 L1493.3 303.6 L1481.3 298.5 L1474.3 296.3 L1460.3 293.6 L1446.3 293.0 L1433.3 294.1 L1421.3 296.4 L1401.3 303.2 L1384.3 311.5 L1376.3 312.8 L1371.3 312.2 L1370.3 308.0 L1370.1 304.0 L1371.0 301.0 L1372.5 298.0 L1375.6 294.0 L1381.3 288.0 L1386.9 283.0 L1394.3 277.3 L1405.0 271.0 L1425.3 262.0 L1438.3 258.2 L1449.3 257.0 L1461.3 257.6 L1473.3 259.2 L1485.3 262.1 L1497.3 266.2 L1513.3 273.5 L1527.3 281.1 L1539.5 289.0 L1549.3 296.9 L1555.8 304.0 L1562.5 313.0 L1568.3 322.4 L1573.7 333.0 L1580.5 350.0 L1588.8 378.0 L1592.3 387.0 L1592.1 391.0"/>
<path d="M1443.3 264.9 L1453.3 264.6 L1465.3 265.8 L1471.3 267.0 L1481.7 270.0 L1495.1 275.0 L1505.8 280.0 L1516.8 286.0 L1527.8 293.0 L1533.3 297.0 L1540.0 303.0 L1545.3 309.0 L1549.7 315.0 L1554.3 323.0 L1556.3 327.6 L1560.2 339.0 L1561.6 344.0 L1561.3 344.5 L1561.0 343.0 L1560.3 342.8 L1557.3 338.7 L1546.3 327.3 L1531.3 313.7 L1525.3 308.8 L1518.3 304.2 L1512.3 301.1 L1490.3 292.5 L1476.3 288.4 L1466.3 286.6 L1457.3 285.7 L1429.3 285.8 L1422.3 286.5 L1411.3 288.5 L1407.3 288.6 L1403.3 288.2 L1399.3 286.2 L1399.8 285.0 L1403.3 282.4 L1412.3 277.3 L1433.3 268.0 L1442.5 265.0"/>
</g></g>
<text x="1451.4" y="217.0" font-size="20" font-family="'DejaVu Sans', sans-serif" text-anchor="middle" transform="rotate(8 1451.4 210)">1.95</text>
<text x="1341" y="261.0" font-size="20" font-family="'DejaVu Sans', sans-serif" text-anchor="middle" transform="rotate(-48 1341 254)">2.10</text>
<text x="1513" y="261.0" font-size="20" font-family="'DejaVu Sans', sans-serif" text-anchor="middle" transform="rotate(30 1513 254)">1.80</text>
<text x="1403.5" y="302.0" font-size="20" font-family="'DejaVu Sans', sans-serif" text-anchor="middle" transform="rotate(-15 1403.5 295)">2.10</text>
<text x="1446.5" y="341.0" font-size="20" font-family="'DejaVu Sans', sans-serif" text-anchor="middle" transform="rotate(0 1446.5 334)">1.350</text>
<text x="1311.7" y="331.5" font-size="20" font-family="'DejaVu Sans', sans-serif" text-anchor="middle" transform="rotate(-65 1311.7 324.5)">2.10</text>
<text x="1280" y="345.0" font-size="20" font-family="'DejaVu Sans', sans-serif" text-anchor="middle" transform="rotate(70 1280 338)">1.80</text>
<text x="1582" y="304.0" font-size="20" font-family="'DejaVu Sans', sans-serif" text-anchor="middle" transform="rotate(65 1582 297)">1.65</text>
<text x="1611" y="339.0" font-size="20" font-family="'DejaVu Sans', sans-serif" text-anchor="middle" transform="rotate(80 1611 332)">1.50</text>
<path d="M1244.30 387.00 A205.0 205.0 0 0 1 1654.30 387.00" fill="none" stroke="#000" stroke-width="1.4"/>
<line x1="1448.79" y1="382.03" x2="1429.59" y2="193" stroke="#ff0000" stroke-width="4.2" stroke-dasharray="21 9"/>
<line x1="1456.3" y1="384" x2="1612.53" y2="279.42" stroke="#0000ff" stroke-width="4.5" stroke-dasharray="24 10"/>
<text x="1431" y="177.2" font-size="24" font-family="'DejaVu Sans', sans-serif"><tspan font-style="italic">π</tspan>/2</text>
<text x="1225" y="394.9" font-size="24" font-family="'DejaVu Sans', sans-serif"><tspan font-style="italic">π</tspan></text>
<text x="1655.6" y="395.6" font-size="24" font-family="'DejaVu Sans', sans-serif">0</text>
<text x="1224.3" y="52.5" font-size="52" font-family="'Liberation Serif', 'Times New Roman', serif">(c)</text>
<text x="1229.5" y="124.7" font-size="41.5" font-family="'Liberation Serif', 'Times New Roman', serif">local slope</text>
<rect x="1685.6" y="363.06" width="37.60" height="21.34" fill="#85a8fc"/>
<rect x="1685.6" y="342.12" width="37.60" height="21.34" fill="#a2c1ff"/>
<rect x="1685.6" y="321.18" width="37.60" height="21.34" fill="#bed2f6"/>
<rect x="1685.6" y="300.24" width="37.60" height="21.34" fill="#d7dce3"/>
<rect x="1685.6" y="279.30" width="37.60" height="21.34" fill="#ebd3c6"/>
<rect x="1685.6" y="258.36" width="37.60" height="21.34" fill="#f6bfa6"/>
<rect x="1685.6" y="237.42" width="37.60" height="21.34" fill="#f6a385"/>
<rect x="1685.6" y="216.48" width="37.60" height="21.34" fill="#ec8165"/>
<rect x="1685.6" y="195.54" width="37.60" height="21.34" fill="#d95847"/>
<rect x="1685.6" y="174.60" width="37.60" height="21.34" fill="#be242e"/>
<rect x="1685.6" y="174.6" width="37.6" height="209.4" fill="none" stroke="#000" stroke-width="1.6"/>
<line x1="1723.2" y1="384" x2="1733" y2="384" stroke="#000" stroke-width="1.6"/>
<text x="1740.6" y="391" font-size="18.8" font-family="'DejaVu Sans', sans-serif">0.9</text>
<line x1="1723.2" y1="342.12" x2="1733" y2="342.12" stroke="#000" stroke-width="1.6"/>
<text x="1740.6" y="349.12" font-size="18.8" font-family="'DejaVu Sans', sans-serif">1.2</text>
<line x1="1723.2" y1="300.24" x2="1733" y2="300.24" stroke="#000" stroke-width="1.6"/>
<text x="1740.6" y="307.24" font-size="18.8" font-family="'DejaVu Sans', sans-serif">1.5</text>
<line x1="1723.2" y1="258.36" x2="1733" y2="258.36" stroke="#000" stroke-width="1.6"/>
<text x="1740.6" y="265.36" font-size="18.8" font-family="'DejaVu Sans', sans-serif">1.8</text>
<line x1="1723.2" y1="216.48" x2="1733" y2="216.48" stroke="#000" stroke-width="1.6"/>
<text x="1740.6" y="223.48" font-size="18.8" font-family="'DejaVu Sans', sans-serif">2.1</text>
<line x1="1723.2" y1="174.6" x2="1733" y2="174.6" stroke="#000" stroke-width="1.6"/>
<text x="1740.6" y="181.6" font-size="18.8" font-family="'DejaVu Sans', sans-serif">2.4</text>
<polyline points="126,700.3 130.67,701.13 135.34,701.5 140.01,701.47 144.67,701.1 149.34,700.45 154.01,699.57 158.68,698.53 163.35,697.37 168.02,696.16 172.69,694.95 177.35,693.8 182.02,692.7 186.69,691.66 191.36,690.66 196.03,689.71 200.7,688.8 205.37,687.93 210.03,687.1 214.7,686.29 219.37,685.51 224.04,684.75 228.71,684.02 233.38,683.3 238.04,682.6 242.71,681.92 247.38,681.27 252.05,680.63 256.72,680.02 261.39,679.43 266.06,678.87 270.72,678.33 275.39,677.81 280.06,677.33 284.73,676.86 289.4,676.43 294.07,676.02 298.74,675.63 303.4,675.26 308.07,674.92 312.74,674.6 317.41,674.3 322.08,674.02 326.75,673.76 331.42,673.52 336.08,673.29 340.75,673.09 345.42,672.9 350.09,672.72 354.76,672.55 359.43,672.4 364.1,672.26 368.76,672.13 373.43,672.01 378.1,671.9 382.77,671.79 387.44,671.69 392.11,671.6 396.78,671.53 401.44,671.48 406.11,671.45 410.78,671.46 415.45,671.5 420.12,671.58 424.79,671.71 429.46,671.88 434.12,672.1 438.79,672.38 443.46,672.72 448.13,673.12 452.8,673.58 457.47,674.11 462.13,674.71 466.8,675.39 471.47,676.15 476.14,676.99 480.81,677.91 485.48,678.93 490.15,680.04 494.81,681.25 499.48,682.57 504.15,684.03 508.82,685.63 513.49,687.4 518.16,689.28 522.83,691.22 527.49,693.16 532.16,695.03 536.83,696.79 541.5,698.37" fill="none" stroke="#1558a5" stroke-width="3" stroke-linejoin="round"/>
<line x1="139.5" y1="570.5" x2="139.5" y2="976.8" stroke="#1a1a1a" stroke-width="2.6" stroke-dasharray="9.7 5.2"/>
<line x1="416" y1="570.5" x2="416" y2="976.8" stroke="#111" stroke-width="3.6" stroke-dasharray="10.4 5.6" stroke-dashoffset="14.2"/>
<circle cx="139.5" cy="701.5" r="4.9" fill="#333"/>
<circle cx="416" cy="671.8" r="4.9" fill="#111"/>
<polyline points="414.5,816.2 207.6,816.2 207.6,896" fill="none" stroke="#0000ff" stroke-width="3" stroke-linejoin="round" stroke-dasharray="10 5.6"/>
<polygon points="361,816.2 381.2,809.2 381.2,823.2" fill="#0000ff"/>
<polygon points="207.6,914.1 200.5,894.7 214.7,894.7" fill="#0000ff"/>
<polyline points="141,872.4 347.6,872.4 347.6,897" fill="none" stroke="#ff0000" stroke-width="3" stroke-linejoin="round" stroke-dasharray="15 6"/>
<polygon points="303.7,872.4 284.3,865.7 284.3,879.1" fill="#ff0000"/>
<polygon points="347.6,915.6 340.5,896.2 354.7,896.2" fill="#ff0000"/>
<rect x="126" y="570.5" width="415.5" height="406.3" fill="none" stroke="#000" stroke-width="2"/>
<line x1="116.2" y1="976.8" x2="126" y2="976.8" stroke="#000" stroke-width="2"/>
<text x="109" y="986.3" font-size="26.4" font-family="'DejaVu Sans', sans-serif" text-anchor="end">0.5</text>
<line x1="116.2" y1="879.7" x2="126" y2="879.7" stroke="#000" stroke-width="2"/>
<text x="109" y="889.2" font-size="26.4" font-family="'DejaVu Sans', sans-serif" text-anchor="end">1.0</text>
<line x1="116.2" y1="782.6" x2="126" y2="782.6" stroke="#000" stroke-width="2"/>
<text x="109" y="792.1" font-size="26.4" font-family="'DejaVu Sans', sans-serif" text-anchor="end">1.5</text>
<line x1="116.2" y1="685.5" x2="126" y2="685.5" stroke="#000" stroke-width="2"/>
<text x="109" y="695" font-size="26.4" font-family="'DejaVu Sans', sans-serif" text-anchor="end">2.0</text>
<line x1="116.2" y1="588.4" x2="126" y2="588.4" stroke="#000" stroke-width="2"/>
<text x="109" y="597.9" font-size="26.4" font-family="'DejaVu Sans', sans-serif" text-anchor="end">2.5</text>
<line x1="126" y1="976.8" x2="126" y2="985.5" stroke="#000" stroke-width="1.8"/>
<line x1="229.88" y1="976.8" x2="229.88" y2="985.5" stroke="#000" stroke-width="1.8"/>
<line x1="333.75" y1="976.8" x2="333.75" y2="985.5" stroke="#000" stroke-width="1.8"/>
<line x1="437.62" y1="976.8" x2="437.62" y2="985.5" stroke="#000" stroke-width="1.8"/>
<line x1="541.5" y1="976.8" x2="541.5" y2="985.5" stroke="#000" stroke-width="1.8"/>
<text x="126" y="1013" font-size="26.4" font-family="'DejaVu Sans', sans-serif" text-anchor="middle">0</text>
<text x="230.57" y="1013" font-size="26.4" font-family="'DejaVu Sans', sans-serif" text-anchor="middle" textLength="37.4" lengthAdjust="spacingAndGlyphs"><tspan font-style="italic">π</tspan>/4</text>
<text x="337.05" y="1013" font-size="26.4" font-family="'DejaVu Sans', sans-serif" text-anchor="middle" textLength="38.6" lengthAdjust="spacingAndGlyphs"><tspan font-style="italic">π</tspan>/2</text>
<text x="436.93" y="1013" font-size="26.4" font-family="'DejaVu Sans', sans-serif" text-anchor="middle" textLength="53.8" lengthAdjust="spacingAndGlyphs">3<tspan font-style="italic">π</tspan>/4</text>
<text x="539" y="1013" font-size="26.4" font-family="'DejaVu Sans', sans-serif" text-anchor="middle"><tspan font-style="italic">π</tspan></text>
<text x="149.1" y="615.8" font-size="51.5" font-family="'Liberation Serif', 'Times New Roman', serif">(d)</text>
<text x="0" y="0" font-size="43" font-family="'Liberation Serif', 'Times New Roman', serif" transform="translate(51.6 829.5) rotate(-90)">slope</text>
<text x="323.7" y="1059.1" font-size="37.24" font-family="'DejaVu Serif', serif" font-style="italic">θ</text>
<text x="114.6" y="559.2" font-size="37" font-family="'DejaVu Serif', serif" font-style="italic" fill="#222">θ</text>
<text transform="translate(121.30 520.70) scale(1 0.995)" x="0" y="27.46" font-size="40.2" font-family="'Liberation Serif', 'Times New Roman', serif" fill="#222">ˆ</text>
<text x="135.2" y="567" font-size="32" font-family="'Liberation Serif', 'Times New Roman', serif" fill="#222">min</text>
<text x="376.7" y="559.2" font-size="37" font-family="'DejaVu Serif', serif" font-style="italic">θ</text>
<text transform="translate(382.30 521.00) scale(1 0.952)" x="0" y="28.69" font-size="42.0" font-family="'Liberation Serif', 'Times New Roman', serif">ˆ</text>
<text x="396.2" y="566.2" font-size="32.6" font-family="'Liberation Serif', 'Times New Roman', serif">max</text>
<text x="320.3" y="862.9" font-size="42.4" font-family="'Liberation Serif', 'Times New Roman', serif" fill="#0000ff">−</text>
<text x="347.7" y="863.5" font-size="45.6" font-family="'Liberation Serif', 'Times New Roman', serif" font-style="italic" font-weight="bold" fill="#0000ff">π</text>
<text x="368.5" y="872.9" font-size="64.8" font-family="'Liberation Serif', 'Times New Roman', serif" fill="#0000ff">/</text>
<text x="382.9" y="862.7" font-size="44.7" font-family="'Liberation Serif', 'Times New Roman', serif" fill="#0000ff">2</text>
<text x="233.1" y="919.8" font-size="44" font-family="'Liberation Serif', 'Times New Roman', serif" fill="#ff0000">+</text>
<text x="262" y="918.6" font-size="44.9" font-family="'Liberation Serif', 'Times New Roman', serif" font-style="italic" font-weight="bold" fill="#ff0000">π</text>
<text x="282.8" y="928" font-size="64.8" font-family="'Liberation Serif', 'Times New Roman', serif" fill="#ff0000">/</text>
<text x="298" y="917.8" font-size="44.7" font-family="'Liberation Serif', 'Times New Roman', serif" fill="#ff0000">2</text>
<text x="194.8" y="964.3" font-size="37.9" font-family="'DejaVu Serif', serif" font-style="italic" fill="#0000ff">θ</text>
<text transform="translate(202.00 924.10) scale(1 1.197)" x="0" y="26.64" font-size="39.0" font-family="'Liberation Serif', 'Times New Roman', serif" fill="#0000ff">ˆ</text>
<text x="214.5" y="970.9" font-size="33.7" font-family="'Liberation Serif', 'Times New Roman', serif" fill="#0000ff">2</text>
<text x="335.8" y="964.3" font-size="37.9" font-family="'DejaVu Serif', serif" font-style="italic" fill="#ff0000">θ</text>
<text transform="translate(341.85 924.10) scale(1 1.152)" x="0" y="27.66" font-size="40.5" font-family="'Liberation Serif', 'Times New Roman', serif" fill="#ff0000">ˆ</text>
<text x="355.8" y="971.5" font-size="32.3" font-family="'Liberation Serif', 'Times New Roman', serif" fill="#ff0000">1</text>
<path d="M757.3 822.3 763.2 818.8 762.5 815.3 763.0 812.7 757.4 808.2 759.2 805.1 764.0 803.1 764.9 797.4 768.0 794.7 764.9 789.8 761.1 785.9 758.3 784.4 755.4 782.6 751.5 782.0 747.8 781.2 749.4 773.8 744.8 773.4 745.9 768.6 747.7 764.8 751.4 761.4 755.3 762.9 756.7 763.1 757.3 770.5 762.0 770.5 763.0 772.5 759.1 776.0 762.2 781.6 761.7 780.8 759.2 785.9 764.3 787.6 766.8 789.7 768.4 791.4 773.2 792.5 776.4 791.6 782.8 793.2 784.1 794.5 787.4 792.4 789.4 787.6 791.8 785.9 792.4 787.3 797.5 789.7 799.9 782.6 803.0 785.0 807.1 784.0 808.5 782.6 812.9 778.2 817.5 777.3 820.5 776.3 819.7 773.1 828.2 770.5 M816.7 770.5 817.0 765.0 822.5 762.9 820.5 755.7 820.5 755.2 820.4 750.5 826.3 747.5 826.6 747.7 822.5 743.7 820.6 744.2 816.7 741.8 813.3 737.3 812.9 736.0 817.5 737.4 814.8 728.4 811.1 733.3 809.0 736.0 811.7 742.2 809.0 745.6 813.2 745.2 815.2 751.2 818.6 747.5 824.9 751.8 826.5 753.4 826.3 755.2 825.6 759.3 830.1 762.9 M855.1 766.7 854.1 764.7 853.9 760.9 858.9 757.1 858.3 755.9 853.2 750.3 854.3 751.4 855.1 743.7 857.3 741.7 858.8 735.8 858.9 734.1 856.2 732.5 855.6 726.0 851.2 726.0 853.1 720.7 853.2 716.7 851.2 713.0 851.8 711.1 857.0 707.3 858.5 711.0 859.0 717.0 856.3 717.0 860.8 720.7 865.9 724.1 868.5 720.7 869.4 714.9 874.2 713.0 875.8 707.3 878.1 705.3 878.8 699.7 881.9 699.6 889.9 694.7 889.6 695.8 891.1 697.9 891.5 699.6 893.6 700.9 894.2 696.1 899.7 694.8 903.0 692.9 905.4 695.9 908.8 697.7 912.9 696.2 919.0 695.9 920.3 695.8 922.2 697.8 926.0 703.4 931.9 702.6 931.8 703.4 933.0 707.0 935.5 711.2 927.8 717.0 929.8 718.8 933.1 719.7 927.9 724.5 928.8 731.6 933.5 726.5 933.8 733.8 933.7 737.9 931.4 743.7 931.7 745.5 931.8 749.4 M935.6 706.3 940.7 707.4 943.2 708.9 942.3 708.4 944.0 710.4 946.2 716.3 950.9 718.8 957.5 725.8 959.3 722.6 960.5 719.5 963.9 722.9 963.0 726.2 970.1 728.4 970.6 734.6 974.0 732.2 979.6 733.2 983.3 738.2 985.5 732.2 988.0 731.3 990.4 737.1 993.6 741.2 997.0 741.8 1000.2 744.8 1006.2 747.3 1004.6 751.4 1008.2 758.1 1011.4 758.6 1012.3 761.0 1010.8 764.3 1017.1 763.9 1022.1 763.7 1026.5 765.3 1027.6 768.6 1028.5 766.3 1033.4 772.5 1036.7 778.2 1035.7 781.4 1034.9 779.2 1031.5 785.9 1035.1 783.9 1037.2 782.0 1040.8 783.9 1046.0 783.9 1046.8 784.0 1046.9 779.4 1052.3 783.6 1056.4 785.9 1060.1 783.9 1064.1 785.9 1055.1 787.2 1057.4 787.0 1055.8 789.2 1050.7 789.7 1052.2 797.0 1046.8 797.4 1047.1 799.6 1045.3 804.2 1039.3 808.8 1043.0 810.8 1040.4 818.5 1033.9 812.7 1033.6 811.1 1031.3 817.5 1027.6 816.6 1025.2 818.8 1020.9 824.3 1018.1 822.3 1013.1 823.5 1008.4 823.1 1008.5 824.2 1006.8 828.3 1004.6 830.0 1005.4 833.1 997.6 834.5 997.9 835.3 995.4 839.8 995.0 843.4 989.5 842.8 985.2 839.6 985.5 839.6 986.5 842.5 985.3 847.0 979.7 849.2 979.0 850.5 974.0 849.2 M950.9 808.9 951.3 811.1 958.0 816.1 954.8 820.4 959.0 825.4 960.5 828.1 955.7 834.3 964.1 839.3 958.7 838.7 958.6 841.5 959.9 844.9 954.1 849.2 956.7 851.1 959.3 853.0 964.4 854.9 963.5 857.6 965.3 860.7 965.7 860.8 963.9 854.0 971.2 850.5 968.2 847.2 970.3 843.8 969.0 837.3 972.2 840.2 972.7 838.4 977.2 833.4 979.7 830.0 976.0 827.8 974.0 823.8 970.1 824.2 967.5 818.9 966.3 816.6 971.1 819.8 974.0 812.7 979.6 815.4 976.6 817.4 983.5 816.6 985.8 814.7 989.3 812.7 992.2 817.1 997.0 816.6 997.7 818.1 1002.8 825.7 1004.6 824.2 1010.9 820.4 1012.3 822.3 1015.5 820.2 1018.1 816.6 1023.5 814.4 1022.1 812.2 1028.4 810.9 1027.6 805.1 1026.8 798.8 1031.4 797.6 1031.5 795.5 1028.9 794.4 1027.1 792.7 1023.3 793.9 1018.1 793.6 1014.6 791.5 1015.3 791.0 1008.5 789.7 1004.4 790.5 1001.9 790.1 997.0 786.9 995.0 787.8 990.6 787.0 989.2 784.8 985.5 782.0 982.4 778.6 979.0 781.1 975.9 785.9 973.8 780.9 969.5 779.0 966.3 780.1 958.3 774.3 958.6 774.4 963.7 772.0 963.4 772.5 966.3 766.7 972.2 764.6 972.2 769.3 971.6 763.2 979.9 766.5 980.9 766.6 983.3 771.4 989.3 764.8 991.8 766.7 995.4 766.2 998.9 766.7 998.0 762.6 1002.4 758.3 1004.6 757.1 1002.0 758.2 1008.9 761.4 1008.5 766.7 1011.4 771.2 1014.7 772.0 1012.3 776.3 1015.9 778.1 1020.0 782.0 1026.8 779.4 1027.6 785.9 M828.2 814.6 825.5 818.1 829.0 824.9 828.4 827.9 830.1 830.0 831.3 830.5 828.2 837.7 832.6 838.6 838.7 839.5 839.7 841.5 837.8 847.4 839.7 849.2 841.5 845.4 847.4 843.4 848.3 837.6 847.1 831.5 850.0 833.0 851.2 830.0 848.2 826.3 856.6 818.0 855.1 818.5 860.9 815.3 862.7 814.6 866.8 815.7 872.8 813.6 874.2 812.7 876.0 816.9 881.8 823.6 878.1 824.2 875.6 826.7 878.5 830.5 874.2 833.8 876.2 840.0 872.8 840.1 872.3 843.4 868.1 840.3 872.3 849.2 872.3 844.4 877.8 848.2 880.0 841.5 885.7 839.4 881.7 834.7 884.1 830.6 881.9 828.1 884.9 826.0 889.6 824.2 889.3 825.4 890.0 818.6 893.4 814.6 896.0 811.2 904.8 813.0 903.0 812.7 906.6 815.3 908.8 818.5 912.3 807.2 908.8 808.9 912.2 806.5 916.7 807.7 920.3 805.1 925.3 807.7 932.8 806.7 928.6 811.8 931.8 814.6 934.3 812.6 939.4 808.9 941.3 806.6 942.2 805.8 947.1 801.2 M864.6 736.0 868.7 732.6 872.9 737.4 874.2 737.9 877.5 740.2 879.7 741.7 886.3 742.3 885.8 745.3 889.6 747.5 894.3 749.7 892.1 753.9 898.9 753.4 905.4 754.9 903.0 757.1 905.0 761.2 903.3 762.4 916.6 760.6 912.6 766.7 916.6 765.6 920.3 764.8 922.7 771.9 922.2 776.3 923.5 781.1 924.9 778.5 930.8 780.3 931.8 785.9 934.5 788.0 938.5 788.4 944.8 788.9 945.1 782.6 948.7 789.1 950.9 791.6 955.8 793.5 957.3 798.3 960.5 797.4 M862.7 728.4 863.9 730.6 873.2 729.3 874.2 732.2 874.3 736.5 882.1 729.0 885.1 735.1 889.6 728.4 888.8 727.0 893.4 722.6 898.4 721.8 902.1 726.5 903.0 728.4 901.7 730.7 908.8 732.2 908.5 728.6 912.6 728.4 914.5 727.7 919.2 732.2 924.1 732.2 929.0 734.3 931.8 737.9 936.2 737.8 939.0 743.0 941.4 741.8 940.9 744.3 942.4 745.8 950.9 747.5 957.6 748.3 956.9 749.8 962.4 747.5 964.7 752.4 966.3 747.5 962.9 752.7 960.1 752.3 958.6 757.1 956.0 763.8 956.6 764.8 950.9 766.7 948.9 765.3 944.3 770.1 945.2 776.3 M828.2 797.4 831.3 796.0 834.5 795.8 839.3 789.1 839.7 789.7 845.9 787.9 845.4 784.9 847.4 780.1 848.5 778.3 854.6 773.1 855.1 772.5 856.4 768.1 856.7 768.9 863.8 766.7 864.6 762.9 867.8 769.0 869.5 767.0 874.2 770.5 878.5 771.2 876.8 766.8 882.7 767.3 885.7 762.9 887.7 765.2 889.1 765.9 895.8 769.8 897.2 772.5 896.6 773.6 899.9 769.8 906.8 771.6 908.8 766.7 913.9 767.6 911.3 762.1 919.3 757.5 922.2 762.9 922.4 762.9 928.9 763.0 931.8 757.1 935.8 756.6 937.1 765.9 939.6 764.1 941.4 766.7 946.4 768.8 949.7 773.8 950.9 774.4 M830.1 805.1 834.4 801.8 838.7 802.9 841.0 804.1 843.6 803.1 849.1 801.5 849.3 801.1 853.2 802.7 855.1 797.4 860.4 799.0 866.8 802.2 864.6 805.1 868.2 805.7 871.1 804.1 875.5 801.7 878.1 801.2 880.9 805.5 883.1 803.3 884.5 808.9 889.6 808.9 893.1 805.8 896.8 805.5 899.6 804.9 901.1 803.1 902.2 801.9 912.9 810.3 912.6 807.0 916.3 805.4 922.3 803.2 918.2 802.6 924.1 799.3 928.7 798.6 930.3 801.7 930.9 806.3 935.6 805.1 942.0 805.5 945.3 804.4 947.3 800.5 949.0 799.3 951.4 798.5 961.4 805.6 963.1 804.9 962.4 805.1 M917.7 782.9 933.6 780.4 916.4 777.1 930.7 778.6 928.3 779.6 930.8 784.0 931.6 789.5 927.1 788.9 922.5 788.9 939.6 781.5 926.6 778.7 935.9 780.1 928.7 780.4 916.9 775.4 910.5 778.0 907.9 778.5 918.8 777.0 930.2 773.1 948.8 767.5 930.8 769.2 929.0 773.2 936.1 767.3 935.7 778.9 932.6 786.4 933.4 784.8 924.2 782.0 910.8 788.9 910.1 785.6 918.1 781.3 923.1 784.9 932.2 786.8 944.3 786.3 950.4 792.4 953.8 796.7 933.3 799.1 939.2 798.0 948.5 806.7 954.7 809.6 952.3 806.3 953.0 800.6 952.8 803.7 951.8 801.7 945.4 805.7 946.4 805.5 950.6 809.3 943.2 806.6 953.4 803.7 957.6 814.1 947.3 813.8 953.5 819.2 953.7 812.1 944.4 809.9 930.3 817.1 921.7 820.4 926.0 818.3 928.2 809.9 924.0 810.2 923.6 810.1 925.2 813.6 918.3 812.9 926.7 810.3 921.7 812.4 928.8 807.9 921.4 808.3 929.2 803.9 922.1 805.1 945.0 803.0 940.7 797.9 949.5 795.7 933.9 788.4 921.5 785.3 919.4 787.4 909.1 788.5 895.2 789.6 894.1 790.0 880.5 785.5 878.3 790.8 880.7 794.0 883.0 797.6 882.6 803.0 885.2 801.2 895.7 805.3 894.6 809.1 888.1 811.2 876.0 813.4 868.2 813.2 872.4 811.8 859.4 808.0 857.7 808.1 854.5 804.4 864.1 802.1 869.1 789.9 857.4 786.7 849.3 782.7 855.3 788.8 857.0 785.4 846.2 781.9 865.3 780.8 862.0 781.2 877.1 781.4 894.0 782.2 890.3 781.0 887.7 778.7 877.0 780.4 883.4 780.5 876.9 782.9 877.4 781.3 883.3 787.0 878.3 782.6 887.4 782.6 902.4 785.1 904.0 781.5 894.1 785.6 896.0 783.2 890.6 781.6 882.5 780.5 876.3 784.5 878.2 780.7 871.4 785.5 877.0 787.2 864.6 786.2 860.4 787.5 866.8 791.3 876.2 784.4 885.9 780.6 898.0 786.9 886.6 787.7 886.3 786.6 889.9 786.9 868.5 785.0 864.9 786.3 878.6 791.5 882.3 792.6 887.5 782.1 881.1 786.7 888.9 790.6 892.9 795.7 897.1 798.0 889.8 794.2 889.7 790.7 907.0 793.7 907.6 799.4 916.7 793.9 919.8 796.0 927.2 799.4 919.8 796.9 918.7 803.1 930.9 808.3 947.6 802.7 933.1 802.6 930.7 806.0 943.3 806.3 939.6 803.3 949.0 807.5 954.9 800.8 968.3 798.1 974.8 790.6 982.2 795.7 979.9 796.5 980.0 797.7 963.6 791.9 969.1 794.3 974.8 795.3 967.8 793.2 964.9 796.5 957.5 793.9 957.7 787.9 954.6 786.6 953.7 783.6 960.6 781.5 971.6 775.7 968.8 775.1 969.4 772.5 965.3 766.7 950.4 776.5 953.4 775.9 946.0 778.3 940.5 777.3 951.1 777.9 941.7 771.7 922.5 762.7 925.3 761.7 930.3 762.4 932.0 755.6 928.3 758.2 936.3 761.7 939.4 765.5 933.9 761.4 928.5 760.7 933.7 766.1 931.0 760.6 923.8 764.2 914.1 769.6 906.4 772.5 892.5 776.6 869.7 775.7 870.7 774.8 867.9 773.0 864.4 780.9 855.9 785.6 865.9 781.1 862.1 790.9 877.5 795.0 876.3 789.4 866.9 793.2 861.3 787.1 867.6 782.5 877.7 783.6 881.9 776.3 877.7 774.9 874.5 776.3 874.4 774.0 883.9 776.5 885.4 776.2 902.9 770.4 898.8 779.9 904.5 786.4 901.9 790.6 890.4 784.7 892.9 779.8 891.3 779.8 924.1 780.9 927.7 779.8 919.2 775.5 915.5 776.3 912.0 779.1 901.9 774.3 906.2 781.8 912.0 784.6 902.6 782.3 895.6 776.8 889.6 771.8 894.6 775.2 895.4 769.2 893.8 768.5 899.7 765.9 883.8 769.7 871.7 779.7 869.8 782.2 870.8 786.9 864.0 792.8 842.5 791.0 842.8 788.8 849.6 787.4 837.3 788.0 837.5 784.8 846.0 781.4 829.5 776.0 827.3 778.4 817.3 777.4 828.5 778.5 836.7 779.0 851.7 775.1 849.9 770.6 855.1 766.5 860.0 774.3 866.0 773.4 853.9 779.8 864.2 774.0 874.0 777.7 859.3 773.2 863.8 776.9 864.7 777.4 879.8 775.1 875.8 773.8 899.9 776.1 895.7 782.4 874.3 786.0 867.4 780.6 871.9 787.2 859.4 784.1 866.8 777.1 849.8 775.8 855.2 769.5 855.7 766.3 855.7 772.2 846.5 771.2 856.1 773.5 855.4 770.2 858.2 771.3 850.7 776.3 847.4 780.7 842.1 787.1 844.2 787.0 846.0 784.3 837.5 786.5 837.4 778.3 836.2 777.1 846.3 777.5 844.0 778.6 864.1 772.1 864.5 774.8 874.9 779.2 877.2 778.6 885.4 772.7 878.7 772.4 890.6 772.6 888.6 775.7 888.9 777.4 875.9 776.7 871.8 779.7 867.6 787.0 871.5 783.6 865.3 790.4 851.9 785.4 856.7 792.2 865.0 793.1 861.5 789.9 858.0 786.5 856.0 783.9 854.6 780.8 872.1 782.2 872.5 783.7 887.0 782.9 898.5 784.0 918.6 783.7 901.3 786.4 898.3 777.2 890.9 771.3 901.5 771.3 899.4 770.7 903.2 766.8 900.0 771.9 902.5 774.7 906.6 770.3 924.7 771.0 921.2 763.7 927.4 764.2 925.4 765.7 929.3 768.5 929.1 771.2 920.9 764.5 916.7 764.7 917.3 767.4 922.9 765.8 929.3 770.0 919.5 766.6 913.0 769.3 931.7 778.6 929.8 771.3 919.7 775.3 924.8 784.1 920.4 779.9 939.4 780.4 948.5 782.0 956.0 785.9 945.1 781.7 937.5 781.5 956.6 782.0 956.3 782.1 940.3 783.0 939.1 781.8 951.5 778.8 944.9 778.2 936.5 776.1 926.4 771.7 930.0 769.3 927.4 778.8 926.5 779.3 920.2 782.0 920.5 778.8 918.6 785.2 911.3 783.9 914.3 777.0 933.3 781.2 937.9 787.0 946.0 780.4 937.6 779.4 931.9 780.0 929.1 785.2 927.1 780.2 917.6 779.8 907.1 771.5 897.4 773.8 886.3 770.1 875.7 770.5 885.7 772.6 893.0 769.7 887.4 770.0 889.3 775.9 903.2 772.4 908.8 770.0 905.6 772.6 905.3 773.3 901.0 772.2 903.2 783.5 889.5 786.8 892.4 788.9 901.1 789.3 895.5 783.8 907.3 784.0 902.3 782.6 910.2 787.0 914.7 784.0 925.9 780.5 933.6 772.9 933.4 778.4 938.8 778.7 924.5 775.8 931.5 781.3 923.5 781.6 922.9 781.9 928.9 776.0 938.1 783.2 932.5 785.7 931.5 780.4 938.5 780.9 928.1 781.7 921.2 784.6 927.0 789.2 933.7 785.1 929.9 787.0 927.4 790.5 926.2 797.2 926.0 790.6 921.0 792.7 916.2 790.7 921.2 785.5 918.5 785.5 913.4 784.5 902.6 794.0 917.5 787.0 907.7 784.0 923.8 776.5 926.3 770.2 930.3 778.5 929.0 778.5 917.0 784.4 923.8 783.2 927.8 780.0 915.3 787.0 M883.4 777.5 893.3 773.2 887.2 771.1 880.8 780.3 885.7 783.9 893.3 780.0 886.0 781.9 887.6 776.6 890.5 785.3 887.4 785.9 889.2 788.3 894.7 791.1 902.2 785.5 899.3 789.8 896.6 785.8 896.1 787.4 893.1 790.2 900.5 779.1 887.7 783.4 883.3 791.5 899.0 789.9 896.6 789.1 897.9 788.1 892.7 789.9 881.5 791.5 882.1 798.3 883.0 799.9 877.8 799.5 882.2 804.2 882.8 811.9 889.8 806.0 876.2 797.9 876.7 797.6 875.2 793.9 878.9 789.5 867.4 787.0 873.2 781.5 876.9 784.6 876.9 786.5 872.0 786.4 880.4 785.4 874.5 793.5 867.2 802.2 868.0 804.3 870.2 802.8 876.4 800.8 872.0 799.7 862.7 797.6 853.4 796.5 857.9 799.1 857.6 782.1 855.5 789.3 852.7 791.9 849.7 800.3 838.9 796.1 837.7 798.0 838.8 797.8 827.1 808.3 829.3 802.8 837.9 794.8 840.6 799.6 845.7 799.8 846.0 792.7 848.6 784.4 855.1 789.1 855.8 777.4 860.0 781.3 854.6 778.8 856.1 783.0 854.8 778.0 852.6 772.5 863.0 783.6 852.3 781.0 861.5 789.1 872.7 795.8 875.5 796.6 883.3 798.2 874.4 797.9 865.0 801.6 867.2 799.4 869.1 788.2 866.6 784.1 867.5 782.6 868.8 783.6 861.6 776.1 868.2 771.3 867.5 776.4 866.0 789.1 861.4 784.9 850.7 789.4 849.2 792.3 852.7 805.6 856.2 801.6 854.3 804.8 844.4 800.3 836.7 793.3 844.1 787.0 842.4 791.4 834.7 791.2 829.0 791.6 827.5 796.6 828.1 798.2 837.0 796.6 845.2 799.6 851.0 794.1 852.8 794.1 857.5 799.8 863.5 802.2 861.1 798.1 864.3 790.3 863.0 789.0 866.0 791.8 860.0 794.9 850.2 790.2 855.9 787.8 858.8 801.9 858.2 799.4 847.3 800.1 855.8 800.0 856.8 816.1 858.2 814.8 859.4 806.7 864.0 812.6 870.5 815.5 866.7 810.6 882.5 801.5 875.1 800.0 867.1 791.5 859.4 783.8 858.7 787.7 859.8 791.6 858.1 775.1 854.2 765.1 855.9 768.8 853.0 768.3 856.8 775.6 853.1 781.0 850.8 785.8 836.7 782.6 839.4 774.8 826.2 767.7 825.5 770.6 829.7 770.7 822.1 764.4 825.8 770.3 827.2 781.9 824.7 781.4 826.7 779.7 820.3 771.5 821.6 774.2 832.5 774.7 M951.7 780.2 949.0 778.0 953.9 788.5 949.0 802.4 953.8 796.0 949.3 794.5 946.6 784.2 936.2 788.6 931.3 798.1 942.6 794.1 950.1 789.7 960.3 794.1 951.0 789.6 949.5 790.9 957.0 778.1 956.4 797.0 953.8 791.3 954.0 782.2 957.8 783.3 962.6 790.4 972.7 787.5 974.1 775.1 979.2 776.9 981.0 774.8 980.0 781.9 978.6 782.6 976.5 781.8 980.1 777.7 976.9 773.1 974.4 773.2 970.6 771.6 974.4 767.6 970.9 774.1 969.5 776.8 962.2 774.3 973.8 778.7 973.6 780.7 967.8 775.0 966.9 779.9 955.3 794.3 951.1 791.1 938.7 782.5 939.1 785.0 932.3 774.9 926.7 784.6 924.0 790.1 925.6 799.6 929.2 795.2 925.3 801.1 927.2 802.8 934.5 803.2 938.4 798.1 933.0 790.4 930.4 798.7 932.5 797.2 927.8 795.9 936.8 801.8 938.2 800.3 942.5 800.0 947.8 805.1 953.4 800.4 948.0 809.6 942.9 802.5 942.5 804.7 942.2 810.6 936.2 801.5 933.2 804.4 936.1 800.7 940.5 801.2 939.8 796.0 941.8 791.8 942.2 785.8 940.3 785.1 938.5 788.1 939.9 787.1 944.6 779.1 951.3 769.5 957.4 778.4 965.2 781.7 969.4 787.6 970.4 789.9 974.9 791.8 974.4 793.2 975.2 801.6 971.0 797.0 974.5 793.4 969.7 793.4 972.4 799.7 966.6 795.7 966.7 796.4 969.2 797.5 967.7 789.3 965.7 799.3 972.5 801.8 967.2 798.1 971.7 787.3 966.6 789.4 956.6 793.1 953.8 806.2 953.7 808.9 956.0 818.1 955.5 819.4 952.8 807.5 952.6 806.9 949.3 800.0 950.7 799.8 949.5 815.7 949.3 821.3 943.8 829.4 942.3 822.8 940.0 819.3 936.6 810.1 935.2 801.5 933.4 797.6 928.5 797.0 927.7 793.6 922.5 777.1 934.4 779.5 932.5 781.8 932.7 780.5 924.9 771.7 928.7 778.8 935.7 771.0 940.4 787.4 944.2 791.4 947.1 779.5 952.1 786.0 951.8 781.3 950.0 783.6 955.7 784.1 957.4 784.5 954.3 778.8 955.5 777.8 956.3 792.9 960.5 784.5 963.5 785.8 973.8 789.7 980.6 794.6 983.2 782.8 988.5 795.5 986.2 806.0 979.2 806.5 980.9 813.0 985.7 808.9 995.8 799.6 992.0 795.8 981.1 788.6 981.4 801.1 988.7 800.5 991.1 783.4 991.8 792.9" fill="none" stroke="#1a5ca4" stroke-width="1.15" stroke-linejoin="round"/>
<rect x="696.3" y="570.4" width="407.1" height="407.1" fill="none" stroke="#000" stroke-width="1.7"/>
<line x1="696" y1="977.5" x2="696" y2="985.8" stroke="#000" stroke-width="1.7"/>
<text x="696" y="1015.6" font-size="26.4" font-family="'DejaVu Sans', sans-serif" text-anchor="middle">2</text>
<line x1="763.9" y1="977.5" x2="763.9" y2="985.8" stroke="#000" stroke-width="1.7"/>
<line x1="831.8" y1="977.5" x2="831.8" y2="985.8" stroke="#000" stroke-width="1.7"/>
<text x="831.8" y="1015.6" font-size="26.4" font-family="'DejaVu Sans', sans-serif" text-anchor="middle">3</text>
<line x1="899.7" y1="977.5" x2="899.7" y2="985.8" stroke="#000" stroke-width="1.7"/>
<line x1="967.6" y1="977.5" x2="967.6" y2="985.8" stroke="#000" stroke-width="1.7"/>
<text x="967.6" y="1015.6" font-size="26.4" font-family="'DejaVu Sans', sans-serif" text-anchor="middle">4</text>
<line x1="1035.5" y1="977.5" x2="1035.5" y2="985.8" stroke="#000" stroke-width="1.7"/>
<line x1="1103.4" y1="977.5" x2="1103.4" y2="985.8" stroke="#000" stroke-width="1.7"/>
<text x="1103.4" y="1015.6" font-size="26.4" font-family="'DejaVu Sans', sans-serif" text-anchor="middle">5</text>
<line x1="687.5" y1="603.95" x2="696.3" y2="603.95" stroke="#000" stroke-width="1.7"/>
<line x1="687.5" y1="671.8" x2="696.3" y2="671.8" stroke="#000" stroke-width="1.7"/>
<text x="681.5" y="681.4" font-size="26.4" font-family="'DejaVu Sans', sans-serif" text-anchor="end">1</text>
<line x1="687.5" y1="739.65" x2="696.3" y2="739.65" stroke="#000" stroke-width="1.7"/>
<line x1="687.5" y1="807.5" x2="696.3" y2="807.5" stroke="#000" stroke-width="1.7"/>
<text x="681.5" y="817.1" font-size="26.4" font-family="'DejaVu Sans', sans-serif" text-anchor="end">0</text>
<line x1="687.5" y1="875.35" x2="696.3" y2="875.35" stroke="#000" stroke-width="1.7"/>
<line x1="687.5" y1="943.2" x2="696.3" y2="943.2" stroke="#000" stroke-width="1.7"/>
<text x="681.5" y="952.8" font-size="26.4" font-family="'DejaVu Sans', sans-serif" text-anchor="end">−1</text>
<text x="707.5" y="615.5" font-size="51.5" font-family="'Liberation Serif', 'Times New Roman', serif" textLength="61.5" lengthAdjust="spacingAndGlyphs">(e)</text>
<g transform="translate(868.6 1059.5)" font-family="'Liberation Serif', 'Times New Roman', serif"><text x="-1" y="0" font-size="49" font-style="italic">ε</text><text x="17.5" y="6.4" font-size="34">1</text><text transform="translate(38.6 0) scale(0.55 1)" font-size="52">[</text><text x="47.3" y="0" font-size="44" font-style="italic">i</text><text transform="translate(59.6 0) scale(0.55 1)" font-size="52">]</text></g>
<g transform="translate(868.6 1059.5)">
<text transform="translate(2.50 -32.70) scale(1 1.162)" x="0" y="26.64" font-size="39.0" font-family="'Liberation Serif', 'Times New Roman', serif">ˆ</text>
</g>
<g transform="translate(626.5 803.2) rotate(-90)" font-family="'Liberation Serif', 'Times New Roman', serif"><text x="-1" y="0" font-size="49" font-style="italic">ε</text><text x="17.5" y="6.4" font-size="34">2</text><text transform="translate(38.6 0) scale(0.55 1)" font-size="52">[</text><text x="47.3" y="0" font-size="44" font-style="italic">i</text><text transform="translate(59.6 0) scale(0.55 1)" font-size="52">]</text></g>
<g transform="translate(626.5 803.2) rotate(-90)">
<text transform="translate(2.50 -32.70) scale(1 1.162)" x="0" y="26.64" font-size="39.0" font-family="'Liberation Serif', 'Times New Roman', serif">ˆ</text>
</g>
<line x1="1438.4" y1="572.4" x2="1438.4" y2="975.3" stroke="#8a8a8a" stroke-width="3" stroke-dasharray="10 4.6"/>
<line x1="1697.4" y1="572.4" x2="1697.4" y2="975.3" stroke="#8a8a8a" stroke-width="3" stroke-dasharray="10 4.6"/>
<polyline points="1284,958.4 1305,940.5 1322.1,932.3 1336.7,926.2 1348.8,920 1359.4,913.7 1368.7,906.6 1377.6,901 1385.8,895.8 1392,890.5 1398.5,886.5 1404,883 1409.7,879.5 1416.2,875.2 1425.5,868.5 1434.7,861.5 1444.9,852.3 1452.7,846.3 1462.6,838.3 1468.2,833.1 1475.6,825.3 1483.1,818.2 1490,810.7 1497.4,801 1505.4,791.4 1511.9,781.5 1520.9,771.6 1527.8,762.3 1534.7,752.6 1541.7,743.3 1550.1,734 1557.6,725.6 1564.5,718.2 1571.9,713.5 1579,707.9 1586.4,703.3 1593.9,697.7 1601.3,691.5 1609,684 1616,675 1623.8,666.5 1631,657 1638.4,648.2 1646.1,640.5 1653.4,632.2 1660.8,624.2 1668.5,616.1 1675.4,608.4 1683.1,600.7 1690.4,594 1697.8,588.6" fill="none" stroke="#ff0000" stroke-width="1.3" stroke-linejoin="round" stroke-dasharray="4 2.5"/>
<polyline points="1284,949.8 1305,931.8 1322.1,921.5 1336.7,913.7 1348.8,907.6 1359.4,902.9 1368.7,898.2 1377.6,894.5 1384.5,891.4 1392,887.6 1398.5,884.3 1404,881.5 1409.7,878.7 1416.2,875.3 1425.5,870.7 1434.7,864.4 1445.8,857.8 1453.3,852.8 1462.6,845.4 1468.2,840.5 1476.2,833.8 1483.6,826.7 1490.1,819.7 1498.5,811.3 1506,802.5 1512.5,793.6 1520.9,783.9 1528.3,774.6 1535.2,765.3 1542.3,755.4 1550.1,745.5 1557.6,737.7 1565,730.3 1572.1,723.8 1579.9,716.9 1586.8,709.7 1594.4,702.7 1602.1,694.3 1609.1,685.2 1616.1,676.1 1623.8,667.1 1631,659.4 1638.4,653.1 1646.1,649.3 1653.4,648.6 1660.8,648.9 1668.5,649.9 1675.4,648.2 1683.1,644 1690.4,640.5 1697.8,638.7" fill="none" stroke="#0000ff" stroke-width="1.3" stroke-linejoin="round" stroke-dasharray="4 2.5"/>
<g fill="#ff0000"><circle cx="1284" cy="958.4" r="5.1"/><circle cx="1305" cy="940.5" r="5.1"/><circle cx="1322.1" cy="932.3" r="5.1"/><circle cx="1336.7" cy="926.2" r="5.1"/><circle cx="1348.8" cy="920" r="5.1"/><circle cx="1359.4" cy="913.7" r="5.1"/><circle cx="1368.7" cy="906.6" r="5.1"/><circle cx="1377.6" cy="901" r="5.1"/><circle cx="1385.8" cy="895.8" r="5.1"/><circle cx="1392" cy="890.5" r="5.1"/><circle cx="1398.5" cy="886.5" r="5.1"/><circle cx="1404" cy="883" r="5.1"/><circle cx="1409.7" cy="879.5" r="5.1"/><circle cx="1416.2" cy="875.2" r="5.1"/><circle cx="1425.5" cy="868.5" r="5.1"/><circle cx="1434.7" cy="861.5" r="5.1"/><circle cx="1444.9" cy="852.3" r="5.1"/><circle cx="1452.7" cy="846.3" r="5.1"/><circle cx="1462.6" cy="838.3" r="5.1"/><circle cx="1468.2" cy="833.1" r="5.1"/><circle cx="1475.6" cy="825.3" r="5.1"/><circle cx="1483.1" cy="818.2" r="5.1"/><circle cx="1490" cy="810.7" r="5.1"/><circle cx="1497.4" cy="801" r="5.1"/><circle cx="1505.4" cy="791.4" r="5.1"/><circle cx="1511.9" cy="781.5" r="5.1"/><circle cx="1520.9" cy="771.6" r="5.1"/><circle cx="1527.8" cy="762.3" r="5.1"/><circle cx="1534.7" cy="752.6" r="5.1"/><circle cx="1541.7" cy="743.3" r="5.1"/><circle cx="1550.1" cy="734" r="5.1"/><circle cx="1557.6" cy="725.6" r="5.1"/><circle cx="1564.5" cy="718.2" r="5.1"/><circle cx="1571.9" cy="713.5" r="5.1"/><circle cx="1579" cy="707.9" r="5.1"/><circle cx="1586.4" cy="703.3" r="5.1"/><circle cx="1593.9" cy="697.7" r="5.1"/><circle cx="1601.3" cy="691.5" r="5.1"/><circle cx="1609" cy="684" r="5.1"/><circle cx="1616" cy="675" r="5.1"/><circle cx="1623.8" cy="666.5" r="5.1"/><circle cx="1631" cy="657" r="5.1"/><circle cx="1638.4" cy="648.2" r="5.1"/><circle cx="1646.1" cy="640.5" r="5.1"/><circle cx="1653.4" cy="632.2" r="5.1"/><circle cx="1660.8" cy="624.2" r="5.1"/><circle cx="1668.5" cy="616.1" r="5.1"/><circle cx="1675.4" cy="608.4" r="5.1"/><circle cx="1683.1" cy="600.7" r="5.1"/><circle cx="1690.4" cy="594" r="5.1"/><circle cx="1697.8" cy="588.6" r="5.1"/></g>
<g fill="#0000ff"><circle cx="1284" cy="949.8" r="5.1"/><circle cx="1305" cy="931.8" r="5.1"/><circle cx="1322.1" cy="921.5" r="5.1"/><circle cx="1336.7" cy="913.7" r="5.1"/><circle cx="1348.8" cy="907.6" r="5.1"/><circle cx="1359.4" cy="902.9" r="5.1"/><circle cx="1368.7" cy="898.2" r="5.1"/><circle cx="1377.6" cy="894.5" r="5.1"/><circle cx="1384.5" cy="891.4" r="5.1"/><circle cx="1392" cy="887.6" r="5.1"/><circle cx="1398.5" cy="884.3" r="5.1"/><circle cx="1404" cy="881.5" r="5.1"/><circle cx="1409.7" cy="878.7" r="5.1"/><circle cx="1416.2" cy="875.3" r="5.1"/><circle cx="1425.5" cy="870.7" r="5.1"/><circle cx="1434.7" cy="864.4" r="5.1"/><circle cx="1445.8" cy="857.8" r="5.1"/><circle cx="1453.3" cy="852.8" r="5.1"/><circle cx="1462.6" cy="845.4" r="5.1"/><circle cx="1468.2" cy="840.5" r="5.1"/><circle cx="1476.2" cy="833.8" r="5.1"/><circle cx="1483.6" cy="826.7" r="5.1"/><circle cx="1490.1" cy="819.7" r="5.1"/><circle cx="1498.5" cy="811.3" r="5.1"/><circle cx="1506" cy="802.5" r="5.1"/><circle cx="1512.5" cy="793.6" r="5.1"/><circle cx="1520.9" cy="783.9" r="5.1"/><circle cx="1528.3" cy="774.6" r="5.1"/><circle cx="1535.2" cy="765.3" r="5.1"/><circle cx="1542.3" cy="755.4" r="5.1"/><circle cx="1550.1" cy="745.5" r="5.1"/><circle cx="1557.6" cy="737.7" r="5.1"/><circle cx="1565" cy="730.3" r="5.1"/><circle cx="1572.1" cy="723.8" r="5.1"/><circle cx="1579.9" cy="716.9" r="5.1"/><circle cx="1586.8" cy="709.7" r="5.1"/><circle cx="1594.4" cy="702.7" r="5.1"/><circle cx="1602.1" cy="694.3" r="5.1"/><circle cx="1609.1" cy="685.2" r="5.1"/><circle cx="1616.1" cy="676.1" r="5.1"/><circle cx="1623.8" cy="667.1" r="5.1"/><circle cx="1631" cy="659.4" r="5.1"/><circle cx="1638.4" cy="653.1" r="5.1"/><circle cx="1646.1" cy="649.3" r="5.1"/><circle cx="1653.4" cy="648.6" r="5.1"/><circle cx="1660.8" cy="648.9" r="5.1"/><circle cx="1668.5" cy="649.9" r="5.1"/><circle cx="1675.4" cy="648.2" r="5.1"/><circle cx="1683.1" cy="644" r="5.1"/><circle cx="1690.4" cy="640.5" r="5.1"/><circle cx="1697.8" cy="638.7" r="5.1"/></g>
<line x1="1495.2" y1="831.2" x2="1558.1" y2="756" stroke="#000" stroke-width="2"/>
<line x1="1604.9" y1="666.4" x2="1668.5" y2="592.3" stroke="#000" stroke-width="2"/>
<text x="1554" y="819.7" font-size="24" font-family="'DejaVu Sans', sans-serif" text-anchor="middle">2.2</text>
<text x="1616.7" y="622.8" font-size="24" font-family="'DejaVu Sans', sans-serif" text-anchor="middle">1.9</text>
<rect x="1276.5" y="570.4" width="429.1" height="406.9" fill="none" stroke="#000" stroke-width="1.7"/>
<line x1="1303.4" y1="977.3" x2="1303.4" y2="985.7" stroke="#000" stroke-width="1.7"/>
<text x="1303.4" y="1013.3" font-size="26.4" font-family="'DejaVu Sans', sans-serif" text-anchor="middle">0.5</text>
<line x1="1401.2" y1="977.3" x2="1401.2" y2="985.7" stroke="#000" stroke-width="1.7"/>
<text x="1401.2" y="1013.3" font-size="26.4" font-family="'DejaVu Sans', sans-serif" text-anchor="middle">1.0</text>
<line x1="1499" y1="977.3" x2="1499" y2="985.7" stroke="#000" stroke-width="1.7"/>
<text x="1499" y="1013.3" font-size="26.4" font-family="'DejaVu Sans', sans-serif" text-anchor="middle">1.5</text>
<line x1="1596.8" y1="977.3" x2="1596.8" y2="985.7" stroke="#000" stroke-width="1.7"/>
<text x="1596.8" y="1013.3" font-size="26.4" font-family="'DejaVu Sans', sans-serif" text-anchor="middle">2.0</text>
<line x1="1694.6" y1="977.3" x2="1694.6" y2="985.7" stroke="#000" stroke-width="1.7"/>
<text x="1694.6" y="1013.3" font-size="26.4" font-family="'DejaVu Sans', sans-serif" text-anchor="middle">2.5</text>
<line x1="1268.2" y1="617.4" x2="1276.5" y2="617.4" stroke="#000" stroke-width="1.7"/>
<text x="1264" y="626.7" font-size="26.4" font-family="'DejaVu Sans', sans-serif" text-anchor="end">1</text>
<line x1="1268.2" y1="718.8" x2="1276.5" y2="718.8" stroke="#000" stroke-width="1.7"/>
<text x="1264" y="728.1" font-size="26.4" font-family="'DejaVu Sans', sans-serif" text-anchor="end">0</text>
<line x1="1268.2" y1="820.2" x2="1276.5" y2="820.2" stroke="#000" stroke-width="1.7"/>
<text x="1264" y="829.5" font-size="26.4" font-family="'DejaVu Sans', sans-serif" text-anchor="end">−1</text>
<line x1="1268.2" y1="921.6" x2="1276.5" y2="921.6" stroke="#000" stroke-width="1.7"/>
<text x="1264" y="930.9" font-size="26.4" font-family="'DejaVu Sans', sans-serif" text-anchor="end">−2</text>
<text x="1286" y="615.5" font-size="51.5" font-family="'Liberation Serif', 'Times New Roman', serif" textLength="59.3" lengthAdjust="spacingAndGlyphs">(f)</text>
<g transform="translate(1471.3 709.5)" fill="#ff0000" font-family="'Liberation Serif', 'Times New Roman', serif"><text x="-1" y="0" font-size="49" font-style="italic">ε</text><text x="17.5" y="6.4" font-size="34">1</text><text transform="translate(38.6 0) scale(0.55 1)" font-size="52">[</text><text x="47.3" y="0" font-size="44" font-style="italic">i</text><text transform="translate(59.6 0) scale(0.55 1)" font-size="52">]</text></g>
<g transform="translate(1471.3 709.5)">
<text transform="translate(2.50 -32.70) scale(1 1.162)" x="0" y="26.64" font-size="39.0" font-family="'Liberation Serif', 'Times New Roman', serif" fill="#ff0000">ˆ</text>
</g>
<g transform="translate(1454.9 907.6)" fill="#0000ff" font-family="'Liberation Serif', 'Times New Roman', serif"><text x="-1" y="0" font-size="49" font-style="italic">ε</text><text x="17.5" y="6.4" font-size="34">2</text><text transform="translate(38.6 0) scale(0.55 1)" font-size="52">[</text><text x="47.3" y="0" font-size="44" font-style="italic">i</text><text transform="translate(59.6 0) scale(0.55 1)" font-size="52">]</text></g>
<g transform="translate(1454.9 907.6)">
<text transform="translate(2.50 -32.70) scale(1 1.162)" x="0" y="26.64" font-size="39.0" font-family="'Liberation Serif', 'Times New Roman', serif" fill="#0000ff">ˆ</text>
</g>
<g transform="translate(1212.5 855.6) rotate(-90)"><text x="-1.0" y="0.0" font-size="44" font-family="'Liberation Serif', 'Times New Roman', serif">log</text><text x="56.5" y="11.0" font-size="32.5" font-family="'Liberation Serif', 'Times New Roman', serif">10</text><text x="93.3" y="0" font-size="44" font-family="'Liberation Serif', 'Times New Roman', serif" font-style="italic">F</text><text x="123.5" y="-14.7" font-size="38" font-family="'Liberation Serif', 'Times New Roman', serif">(<tspan font-style="italic">θ</tspan>)</text></g>
<text x="1435.8" y="1059.5" font-size="44" font-family="'Liberation Serif', 'Times New Roman', serif">log</text><text x="1493.3" y="1070.5" font-size="32.5" font-family="'Liberation Serif', 'Times New Roman', serif">10</text><text x="1532.2" y="1059.5" font-size="43" font-family="'Liberation Serif', 'Times New Roman', serif" font-style="italic">s̃</text>
</svg>
</body></html>
